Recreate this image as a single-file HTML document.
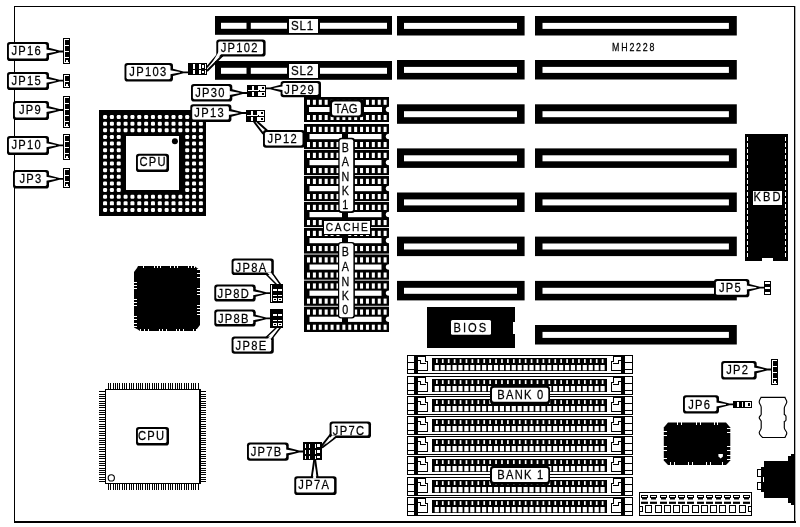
<!DOCTYPE html>
<html><head><meta charset="utf-8"><title>MH2228</title>
<style>
html,body{margin:0;padding:0;background:#fff;}
svg{display:block}
svg rect{shape-rendering:crispEdges}
svg .aa{shape-rendering:geometricPrecision}
text{font-family:"Liberation Sans",sans-serif;stroke:#000;stroke-width:0.25px;}
svg{filter:grayscale(1)}
</style></head><body>
<svg width="800" height="527" viewBox="0 0 800 527">
<rect x="0" y="0" width="800" height="527" fill="#fff"/>
<rect x="14" y="6" width="781" height="1" fill="#000" />
<rect x="14" y="6" width="1" height="516" fill="#000" />
<rect x="794" y="6" width="1.3" height="516" fill="#000" class="aa"/>
<rect x="14" y="521" width="781.5" height="2" fill="#000" />
<rect x="215" y="16" width="177" height="18.8" fill="#000" class="aa"/>
<rect x="221" y="22.8" width="25.5" height="6" fill="#fff" class="aa"/>
<rect x="250.8" y="22.8" width="136.2" height="6" fill="#fff" class="aa"/>
<rect x="215" y="61" width="177" height="18.8" fill="#000" class="aa"/>
<rect x="221" y="67.8" width="25.5" height="6" fill="#fff" class="aa"/>
<rect x="250.8" y="67.8" width="136.2" height="6" fill="#fff" class="aa"/>
<rect x="397" y="16" width="127.6" height="19.5" fill="#000" class="aa"/>
<rect x="404" y="22.9" width="113" height="6" fill="#fff" class="aa"/>
<rect x="397" y="60" width="127.6" height="19.5" fill="#000" class="aa"/>
<rect x="404" y="66.9" width="113" height="6" fill="#fff" class="aa"/>
<rect x="397" y="104.3" width="127.6" height="19.5" fill="#000" class="aa"/>
<rect x="404" y="111.2" width="113" height="6" fill="#fff" class="aa"/>
<rect x="397" y="148.4" width="127.6" height="19.5" fill="#000" class="aa"/>
<rect x="404" y="155.3" width="113" height="6" fill="#fff" class="aa"/>
<rect x="397" y="192.5" width="127.6" height="19.5" fill="#000" class="aa"/>
<rect x="404" y="199.4" width="113" height="6" fill="#fff" class="aa"/>
<rect x="397" y="236.6" width="127.6" height="19.5" fill="#000" class="aa"/>
<rect x="404" y="243.5" width="113" height="6" fill="#fff" class="aa"/>
<rect x="397" y="280.9" width="127.6" height="19.5" fill="#000" class="aa"/>
<rect x="404" y="287.8" width="113" height="6" fill="#fff" class="aa"/>
<rect x="535" y="16" width="201.8" height="19.5" fill="#000" class="aa"/>
<rect x="542.5" y="22.9" width="186.4" height="6" fill="#fff" class="aa"/>
<rect x="535" y="60" width="201.8" height="19.5" fill="#000" class="aa"/>
<rect x="542.5" y="66.9" width="186.4" height="6" fill="#fff" class="aa"/>
<rect x="535" y="104.3" width="201.8" height="19.5" fill="#000" class="aa"/>
<rect x="542.5" y="111.2" width="186.4" height="6" fill="#fff" class="aa"/>
<rect x="535" y="148.4" width="201.8" height="19.5" fill="#000" class="aa"/>
<rect x="542.5" y="155.3" width="186.4" height="6" fill="#fff" class="aa"/>
<rect x="535" y="192.5" width="201.8" height="19.5" fill="#000" class="aa"/>
<rect x="542.5" y="199.4" width="186.4" height="6" fill="#fff" class="aa"/>
<rect x="535" y="236.6" width="201.8" height="19.5" fill="#000" class="aa"/>
<rect x="542.5" y="243.5" width="186.4" height="6" fill="#fff" class="aa"/>
<rect x="535" y="280.9" width="201.8" height="19.5" fill="#000" class="aa"/>
<rect x="542.5" y="287.8" width="186.4" height="6" fill="#fff" class="aa"/>
<rect x="535" y="325" width="201.8" height="19.5" fill="#000" class="aa"/>
<rect x="542.5" y="331.9" width="186.4" height="6" fill="#fff" class="aa"/>
<rect x="7" y="42" width="42" height="19" rx="2.8" fill="#000" class="aa"/>
<rect x="8.9" y="44" width="37.6" height="14.6" rx="1.6" fill="#fff" class="aa"/>
<text transform="translate(26.8,55.2) scale(0.86,1)" font-size="13" text-anchor="middle" fill="#000"  letter-spacing="1.5">JP16</text>
<polygon points="48,47.6 59.5,50.6 63,50.6 63,52.4 59.5,52.4 48,55.4" fill="#000" class="aa" />
<polygon points="46,49.5 56,51.2 56,51.8 46,53.5" fill="#fff" class="aa" />
<rect x="63" y="38" width="7" height="26" fill="#000" />
<rect x="64" y="39" width="5" height="24" fill="#fff" />
<rect x="65" y="40" width="4" height="5" fill="#000" />
<rect x="65" y="46" width="4" height="5" fill="#000" />
<rect x="65" y="52" width="4" height="5" fill="#000" />
<rect x="65" y="58" width="4" height="4" fill="#000" />
<rect x="66" y="59.5" width="2" height="2" fill="#fff" />
<rect x="7" y="72" width="42" height="18" rx="2.8" fill="#000" class="aa"/>
<rect x="8.9" y="74" width="37.6" height="13.6" rx="1.6" fill="#fff" class="aa"/>
<text transform="translate(26.8,85.2) scale(0.86,1)" font-size="13" text-anchor="middle" fill="#000"  letter-spacing="1.5">JP15</text>
<polygon points="48,76.8 59.5,79.8 63,79.8 63,81.6 59.5,81.6 48,84.6" fill="#000" class="aa" />
<polygon points="46,78.7 56,80.4 56,81 46,82.7" fill="#fff" class="aa" />
<rect x="63" y="74" width="7" height="14" fill="#000" />
<rect x="64" y="75" width="5" height="12" fill="#fff" />
<rect x="65" y="76" width="4" height="5" fill="#000" />
<rect x="65" y="82" width="4" height="4" fill="#000" />
<rect x="66" y="83.5" width="2" height="2" fill="#fff" />
<rect x="13" y="101" width="36" height="19" rx="2.8" fill="#000" class="aa"/>
<rect x="14.9" y="103" width="31.6" height="14.6" rx="1.6" fill="#fff" class="aa"/>
<text transform="translate(30.5,114.2) scale(0.86,1)" font-size="13" text-anchor="middle" fill="#000"  letter-spacing="1.5">JP9</text>
<polygon points="48,106.1 59.5,109.1 63,109.1 63,110.9 59.5,110.9 48,113.9" fill="#000" class="aa" />
<polygon points="46,108 56,109.7 56,110.3 46,112" fill="#fff" class="aa" />
<rect x="63" y="96" width="7" height="32" fill="#000" />
<rect x="64" y="97" width="5" height="30" fill="#fff" />
<rect x="65" y="98" width="4" height="5" fill="#000" />
<rect x="65" y="104" width="4" height="5" fill="#000" />
<rect x="65" y="110" width="4" height="5" fill="#000" />
<rect x="65" y="116" width="4" height="5" fill="#000" />
<rect x="65" y="122" width="4" height="4" fill="#000" />
<rect x="66" y="123.5" width="2" height="2" fill="#fff" />
<rect x="7" y="136" width="42" height="19" rx="2.8" fill="#000" class="aa"/>
<rect x="8.9" y="138" width="37.6" height="14.6" rx="1.6" fill="#fff" class="aa"/>
<text transform="translate(26.8,149.2) scale(0.86,1)" font-size="13" text-anchor="middle" fill="#000"  letter-spacing="1.5">JP10</text>
<polygon points="48,141.4 59.5,144.4 63,144.4 63,146.2 59.5,146.2 48,149.2" fill="#000" class="aa" />
<polygon points="46,143.3 56,145 56,145.6 46,147.3" fill="#fff" class="aa" />
<rect x="63" y="134" width="7" height="26" fill="#000" />
<rect x="64" y="135" width="5" height="24" fill="#fff" />
<rect x="65" y="136" width="4" height="5" fill="#000" />
<rect x="65" y="142" width="4" height="5" fill="#000" />
<rect x="65" y="148" width="4" height="5" fill="#000" />
<rect x="65" y="154" width="4" height="4" fill="#000" />
<rect x="66" y="155.5" width="2" height="2" fill="#fff" />
<rect x="13" y="170" width="36" height="18.5" rx="2.8" fill="#000" class="aa"/>
<rect x="14.9" y="172" width="31.6" height="14.1" rx="1.6" fill="#fff" class="aa"/>
<text transform="translate(31,183.2) scale(0.86,1)" font-size="13" text-anchor="middle" fill="#000"  letter-spacing="1.5">JP3</text>
<polygon points="48,174.9 59.5,177.9 63,177.9 63,179.7 59.5,179.7 48,182.7" fill="#000" class="aa" />
<polygon points="46,176.8 56,178.5 56,179.1 46,180.8" fill="#fff" class="aa" />
<rect x="63" y="168" width="7" height="20" fill="#000" />
<rect x="64" y="169" width="5" height="18" fill="#fff" />
<rect x="65" y="170" width="4" height="5" fill="#000" />
<rect x="65" y="176" width="4" height="5" fill="#000" />
<rect x="65" y="182" width="4" height="4" fill="#000" />
<rect x="66" y="183.5" width="2" height="2" fill="#fff" />
<rect x="99" y="110" width="107" height="105.5" fill="#000" />
<rect x="103.05" y="115.00" width="4" height="4" rx="1.2" fill="#fff" class="aa"/>
<rect x="103.05" y="121.64" width="4" height="4" rx="1.2" fill="#fff" class="aa"/>
<rect x="103.05" y="128.29" width="4" height="4" rx="1.2" fill="#fff" class="aa"/>
<rect x="103.05" y="134.93" width="4" height="4" rx="1.2" fill="#fff" class="aa"/>
<rect x="103.05" y="141.57" width="4" height="4" rx="1.2" fill="#fff" class="aa"/>
<rect x="103.05" y="148.22" width="4" height="4" rx="1.2" fill="#fff" class="aa"/>
<rect x="103.05" y="154.86" width="4" height="4" rx="1.2" fill="#fff" class="aa"/>
<rect x="103.05" y="161.50" width="4" height="4" rx="1.2" fill="#fff" class="aa"/>
<rect x="103.05" y="168.14" width="4" height="4" rx="1.2" fill="#fff" class="aa"/>
<rect x="103.05" y="174.79" width="4" height="4" rx="1.2" fill="#fff" class="aa"/>
<rect x="103.05" y="181.43" width="4" height="4" rx="1.2" fill="#fff" class="aa"/>
<rect x="103.05" y="188.07" width="4" height="4" rx="1.2" fill="#fff" class="aa"/>
<rect x="103.05" y="194.72" width="4" height="4" rx="1.2" fill="#fff" class="aa"/>
<rect x="103.05" y="201.36" width="4" height="4" rx="1.2" fill="#fff" class="aa"/>
<rect x="103.05" y="208.00" width="4" height="4" rx="1.2" fill="#fff" class="aa"/>
<rect x="109.90" y="115.00" width="4" height="4" rx="1.2" fill="#fff" class="aa"/>
<rect x="109.90" y="121.64" width="4" height="4" rx="1.2" fill="#fff" class="aa"/>
<rect x="109.90" y="128.29" width="4" height="4" rx="1.2" fill="#fff" class="aa"/>
<rect x="109.90" y="134.93" width="4" height="4" rx="1.2" fill="#fff" class="aa"/>
<rect x="109.90" y="141.57" width="4" height="4" rx="1.2" fill="#fff" class="aa"/>
<rect x="109.90" y="148.22" width="4" height="4" rx="1.2" fill="#fff" class="aa"/>
<rect x="109.90" y="154.86" width="4" height="4" rx="1.2" fill="#fff" class="aa"/>
<rect x="109.90" y="161.50" width="4" height="4" rx="1.2" fill="#fff" class="aa"/>
<rect x="109.90" y="168.14" width="4" height="4" rx="1.2" fill="#fff" class="aa"/>
<rect x="109.90" y="174.79" width="4" height="4" rx="1.2" fill="#fff" class="aa"/>
<rect x="109.90" y="181.43" width="4" height="4" rx="1.2" fill="#fff" class="aa"/>
<rect x="109.90" y="188.07" width="4" height="4" rx="1.2" fill="#fff" class="aa"/>
<rect x="109.90" y="194.72" width="4" height="4" rx="1.2" fill="#fff" class="aa"/>
<rect x="109.90" y="201.36" width="4" height="4" rx="1.2" fill="#fff" class="aa"/>
<rect x="109.90" y="208.00" width="4" height="4" rx="1.2" fill="#fff" class="aa"/>
<rect x="116.74" y="115.00" width="4" height="4" rx="1.2" fill="#fff" class="aa"/>
<rect x="116.74" y="121.64" width="4" height="4" rx="1.2" fill="#fff" class="aa"/>
<rect x="116.74" y="128.29" width="4" height="4" rx="1.2" fill="#fff" class="aa"/>
<rect x="116.74" y="134.93" width="4" height="4" rx="1.2" fill="#fff" class="aa"/>
<rect x="116.74" y="141.57" width="4" height="4" rx="1.2" fill="#fff" class="aa"/>
<rect x="116.74" y="148.22" width="4" height="4" rx="1.2" fill="#fff" class="aa"/>
<rect x="116.74" y="154.86" width="4" height="4" rx="1.2" fill="#fff" class="aa"/>
<rect x="116.74" y="161.50" width="4" height="4" rx="1.2" fill="#fff" class="aa"/>
<rect x="116.74" y="168.14" width="4" height="4" rx="1.2" fill="#fff" class="aa"/>
<rect x="116.74" y="174.79" width="4" height="4" rx="1.2" fill="#fff" class="aa"/>
<rect x="116.74" y="181.43" width="4" height="4" rx="1.2" fill="#fff" class="aa"/>
<rect x="116.74" y="188.07" width="4" height="4" rx="1.2" fill="#fff" class="aa"/>
<rect x="116.74" y="194.72" width="4" height="4" rx="1.2" fill="#fff" class="aa"/>
<rect x="116.74" y="201.36" width="4" height="4" rx="1.2" fill="#fff" class="aa"/>
<rect x="116.74" y="208.00" width="4" height="4" rx="1.2" fill="#fff" class="aa"/>
<rect x="123.59" y="115.00" width="4" height="4" rx="1.2" fill="#fff" class="aa"/>
<rect x="123.59" y="121.64" width="4" height="4" rx="1.2" fill="#fff" class="aa"/>
<rect x="123.59" y="128.29" width="4" height="4" rx="1.2" fill="#fff" class="aa"/>
<rect x="123.59" y="194.72" width="4" height="4" rx="1.2" fill="#fff" class="aa"/>
<rect x="123.59" y="201.36" width="4" height="4" rx="1.2" fill="#fff" class="aa"/>
<rect x="123.59" y="208.00" width="4" height="4" rx="1.2" fill="#fff" class="aa"/>
<rect x="130.43" y="115.00" width="4" height="4" rx="1.2" fill="#fff" class="aa"/>
<rect x="130.43" y="121.64" width="4" height="4" rx="1.2" fill="#fff" class="aa"/>
<rect x="130.43" y="128.29" width="4" height="4" rx="1.2" fill="#fff" class="aa"/>
<rect x="130.43" y="194.72" width="4" height="4" rx="1.2" fill="#fff" class="aa"/>
<rect x="130.43" y="201.36" width="4" height="4" rx="1.2" fill="#fff" class="aa"/>
<rect x="130.43" y="208.00" width="4" height="4" rx="1.2" fill="#fff" class="aa"/>
<rect x="137.28" y="115.00" width="4" height="4" rx="1.2" fill="#fff" class="aa"/>
<rect x="137.28" y="121.64" width="4" height="4" rx="1.2" fill="#fff" class="aa"/>
<rect x="137.28" y="128.29" width="4" height="4" rx="1.2" fill="#fff" class="aa"/>
<rect x="137.28" y="194.72" width="4" height="4" rx="1.2" fill="#fff" class="aa"/>
<rect x="137.28" y="201.36" width="4" height="4" rx="1.2" fill="#fff" class="aa"/>
<rect x="137.28" y="208.00" width="4" height="4" rx="1.2" fill="#fff" class="aa"/>
<rect x="144.13" y="115.00" width="4" height="4" rx="1.2" fill="#fff" class="aa"/>
<rect x="144.13" y="121.64" width="4" height="4" rx="1.2" fill="#fff" class="aa"/>
<rect x="144.13" y="128.29" width="4" height="4" rx="1.2" fill="#fff" class="aa"/>
<rect x="144.13" y="194.72" width="4" height="4" rx="1.2" fill="#fff" class="aa"/>
<rect x="144.13" y="201.36" width="4" height="4" rx="1.2" fill="#fff" class="aa"/>
<rect x="144.13" y="208.00" width="4" height="4" rx="1.2" fill="#fff" class="aa"/>
<rect x="150.97" y="115.00" width="4" height="4" rx="1.2" fill="#fff" class="aa"/>
<rect x="150.97" y="121.64" width="4" height="4" rx="1.2" fill="#fff" class="aa"/>
<rect x="150.97" y="128.29" width="4" height="4" rx="1.2" fill="#fff" class="aa"/>
<rect x="150.97" y="194.72" width="4" height="4" rx="1.2" fill="#fff" class="aa"/>
<rect x="150.97" y="201.36" width="4" height="4" rx="1.2" fill="#fff" class="aa"/>
<rect x="150.97" y="208.00" width="4" height="4" rx="1.2" fill="#fff" class="aa"/>
<rect x="157.82" y="115.00" width="4" height="4" rx="1.2" fill="#fff" class="aa"/>
<rect x="157.82" y="121.64" width="4" height="4" rx="1.2" fill="#fff" class="aa"/>
<rect x="157.82" y="128.29" width="4" height="4" rx="1.2" fill="#fff" class="aa"/>
<rect x="157.82" y="194.72" width="4" height="4" rx="1.2" fill="#fff" class="aa"/>
<rect x="157.82" y="201.36" width="4" height="4" rx="1.2" fill="#fff" class="aa"/>
<rect x="157.82" y="208.00" width="4" height="4" rx="1.2" fill="#fff" class="aa"/>
<rect x="164.66" y="115.00" width="4" height="4" rx="1.2" fill="#fff" class="aa"/>
<rect x="164.66" y="121.64" width="4" height="4" rx="1.2" fill="#fff" class="aa"/>
<rect x="164.66" y="128.29" width="4" height="4" rx="1.2" fill="#fff" class="aa"/>
<rect x="164.66" y="194.72" width="4" height="4" rx="1.2" fill="#fff" class="aa"/>
<rect x="164.66" y="201.36" width="4" height="4" rx="1.2" fill="#fff" class="aa"/>
<rect x="164.66" y="208.00" width="4" height="4" rx="1.2" fill="#fff" class="aa"/>
<rect x="171.51" y="115.00" width="4" height="4" rx="1.2" fill="#fff" class="aa"/>
<rect x="171.51" y="121.64" width="4" height="4" rx="1.2" fill="#fff" class="aa"/>
<rect x="171.51" y="128.29" width="4" height="4" rx="1.2" fill="#fff" class="aa"/>
<rect x="171.51" y="194.72" width="4" height="4" rx="1.2" fill="#fff" class="aa"/>
<rect x="171.51" y="201.36" width="4" height="4" rx="1.2" fill="#fff" class="aa"/>
<rect x="171.51" y="208.00" width="4" height="4" rx="1.2" fill="#fff" class="aa"/>
<rect x="178.36" y="115.00" width="4" height="4" rx="1.2" fill="#fff" class="aa"/>
<rect x="178.36" y="121.64" width="4" height="4" rx="1.2" fill="#fff" class="aa"/>
<rect x="178.36" y="128.29" width="4" height="4" rx="1.2" fill="#fff" class="aa"/>
<rect x="178.36" y="194.72" width="4" height="4" rx="1.2" fill="#fff" class="aa"/>
<rect x="178.36" y="201.36" width="4" height="4" rx="1.2" fill="#fff" class="aa"/>
<rect x="178.36" y="208.00" width="4" height="4" rx="1.2" fill="#fff" class="aa"/>
<rect x="185.20" y="115.00" width="4" height="4" rx="1.2" fill="#fff" class="aa"/>
<rect x="185.20" y="121.64" width="4" height="4" rx="1.2" fill="#fff" class="aa"/>
<rect x="185.20" y="128.29" width="4" height="4" rx="1.2" fill="#fff" class="aa"/>
<rect x="185.20" y="134.93" width="4" height="4" rx="1.2" fill="#fff" class="aa"/>
<rect x="185.20" y="141.57" width="4" height="4" rx="1.2" fill="#fff" class="aa"/>
<rect x="185.20" y="148.22" width="4" height="4" rx="1.2" fill="#fff" class="aa"/>
<rect x="185.20" y="154.86" width="4" height="4" rx="1.2" fill="#fff" class="aa"/>
<rect x="185.20" y="161.50" width="4" height="4" rx="1.2" fill="#fff" class="aa"/>
<rect x="185.20" y="168.14" width="4" height="4" rx="1.2" fill="#fff" class="aa"/>
<rect x="185.20" y="174.79" width="4" height="4" rx="1.2" fill="#fff" class="aa"/>
<rect x="185.20" y="181.43" width="4" height="4" rx="1.2" fill="#fff" class="aa"/>
<rect x="185.20" y="188.07" width="4" height="4" rx="1.2" fill="#fff" class="aa"/>
<rect x="185.20" y="194.72" width="4" height="4" rx="1.2" fill="#fff" class="aa"/>
<rect x="185.20" y="201.36" width="4" height="4" rx="1.2" fill="#fff" class="aa"/>
<rect x="185.20" y="208.00" width="4" height="4" rx="1.2" fill="#fff" class="aa"/>
<rect x="192.05" y="115.00" width="4" height="4" rx="1.2" fill="#fff" class="aa"/>
<rect x="192.05" y="121.64" width="4" height="4" rx="1.2" fill="#fff" class="aa"/>
<rect x="192.05" y="128.29" width="4" height="4" rx="1.2" fill="#fff" class="aa"/>
<rect x="192.05" y="134.93" width="4" height="4" rx="1.2" fill="#fff" class="aa"/>
<rect x="192.05" y="141.57" width="4" height="4" rx="1.2" fill="#fff" class="aa"/>
<rect x="192.05" y="148.22" width="4" height="4" rx="1.2" fill="#fff" class="aa"/>
<rect x="192.05" y="154.86" width="4" height="4" rx="1.2" fill="#fff" class="aa"/>
<rect x="192.05" y="161.50" width="4" height="4" rx="1.2" fill="#fff" class="aa"/>
<rect x="192.05" y="168.14" width="4" height="4" rx="1.2" fill="#fff" class="aa"/>
<rect x="192.05" y="174.79" width="4" height="4" rx="1.2" fill="#fff" class="aa"/>
<rect x="192.05" y="181.43" width="4" height="4" rx="1.2" fill="#fff" class="aa"/>
<rect x="192.05" y="188.07" width="4" height="4" rx="1.2" fill="#fff" class="aa"/>
<rect x="192.05" y="194.72" width="4" height="4" rx="1.2" fill="#fff" class="aa"/>
<rect x="192.05" y="201.36" width="4" height="4" rx="1.2" fill="#fff" class="aa"/>
<rect x="192.05" y="208.00" width="4" height="4" rx="1.2" fill="#fff" class="aa"/>
<rect x="198.89" y="115.00" width="4" height="4" rx="1.2" fill="#fff" class="aa"/>
<rect x="198.89" y="121.64" width="4" height="4" rx="1.2" fill="#fff" class="aa"/>
<rect x="198.89" y="128.29" width="4" height="4" rx="1.2" fill="#fff" class="aa"/>
<rect x="198.89" y="134.93" width="4" height="4" rx="1.2" fill="#fff" class="aa"/>
<rect x="198.89" y="141.57" width="4" height="4" rx="1.2" fill="#fff" class="aa"/>
<rect x="198.89" y="148.22" width="4" height="4" rx="1.2" fill="#fff" class="aa"/>
<rect x="198.89" y="154.86" width="4" height="4" rx="1.2" fill="#fff" class="aa"/>
<rect x="198.89" y="161.50" width="4" height="4" rx="1.2" fill="#fff" class="aa"/>
<rect x="198.89" y="168.14" width="4" height="4" rx="1.2" fill="#fff" class="aa"/>
<rect x="198.89" y="174.79" width="4" height="4" rx="1.2" fill="#fff" class="aa"/>
<rect x="198.89" y="181.43" width="4" height="4" rx="1.2" fill="#fff" class="aa"/>
<rect x="198.89" y="188.07" width="4" height="4" rx="1.2" fill="#fff" class="aa"/>
<rect x="198.89" y="194.72" width="4" height="4" rx="1.2" fill="#fff" class="aa"/>
<rect x="198.89" y="201.36" width="4" height="4" rx="1.2" fill="#fff" class="aa"/>
<rect x="198.89" y="208.00" width="4" height="4" rx="1.2" fill="#fff" class="aa"/>
<rect x="126" y="136" width="53.3" height="54" fill="#fff" />
<circle cx="174.9" cy="141.3" r="3" fill="#000"/>
<rect x="136" y="153.8" width="33" height="18.2" rx="2.8" fill="#000" class="aa"/>
<rect x="137.9" y="155.8" width="28.6" height="13.8" rx="1.6" fill="#fff" class="aa"/>
<text transform="translate(153.1,166.2) scale(0.86,1)" font-size="13" text-anchor="middle" fill="#000"  letter-spacing="1.5">CPU</text>
<rect x="124.5" y="63" width="48.5" height="18.6" rx="2.8" fill="#000" class="aa"/>
<rect x="126.4" y="65" width="44.1" height="14.2" rx="1.6" fill="#fff" class="aa"/>
<text transform="translate(148.35,76.2) scale(0.86,1)" font-size="13" text-anchor="middle" fill="#000"  letter-spacing="1.5">JP103</text>
<polygon points="172,68.4 183.5,71.4 188,71.4 188,73.2 183.5,73.2 172,76.2" fill="#000" class="aa" />
<polygon points="170,70.3 180,72 180,72.6 170,74.3" fill="#fff" class="aa" />
<rect x="188" y="63" width="19" height="12" fill="#000" />
<rect x="193" y="64" width="2" height="5" fill="#fff" />
<rect x="193" y="70" width="2" height="4" fill="#fff" />
<rect x="199" y="64" width="2" height="5" fill="#fff" />
<rect x="199" y="70" width="2" height="4" fill="#fff" />
<rect x="202" y="65" width="2" height="3" fill="#fff" />
<rect x="202" y="71" width="2" height="2" fill="#fff" />
<rect x="205" y="64" width="1" height="5" fill="#fff" />
<rect x="205" y="70" width="1" height="4" fill="#fff" />
<line x1="207" y1="67" x2="219" y2="53" stroke="#000" stroke-width="1.9" class="aa" stroke-linecap="round"/>
<line x1="207.5" y1="70.5" x2="222.5" y2="55.5" stroke="#000" stroke-width="1.9" class="aa" stroke-linecap="round"/>
<rect x="216.3" y="39.5" width="49.3" height="17.1" rx="2.8" fill="#000" class="aa"/>
<rect x="218.2" y="41.5" width="44.9" height="12.7" rx="1.6" fill="#fff" class="aa"/>
<text transform="translate(239.75,52) scale(0.86,1)" font-size="13" text-anchor="middle" fill="#000"  letter-spacing="1.5">JP102</text>
<polygon points="218.5,52 223,52 210,66.5" fill="#fff" class="aa" />
<rect x="191" y="84" width="41.3" height="17.6" rx="2.8" fill="#000" class="aa"/>
<rect x="192.9" y="86" width="36.9" height="13.2" rx="1.6" fill="#fff" class="aa"/>
<text transform="translate(210.45,97.2) scale(0.86,1)" font-size="13" text-anchor="middle" fill="#000"  letter-spacing="1.5">JP30</text>
<polygon points="231.3,89.1 242.8,92.1 247,92.1 247,93.9 242.8,93.9 231.3,96.9" fill="#000" class="aa" />
<polygon points="229.3,91 239.3,92.7 239.3,93.3 229.3,95" fill="#fff" class="aa" />
<rect x="247" y="85" width="19" height="12" fill="#000" />
<rect x="248" y="90" width="11" height="1" fill="#fff" />
<rect x="252" y="86" width="2" height="4" fill="#fff" />
<rect x="252" y="92" width="2" height="4" fill="#fff" />
<rect x="258" y="86" width="2" height="4" fill="#fff" />
<rect x="258" y="92" width="2" height="4" fill="#fff" />
<rect x="260" y="86" width="5" height="4.5" fill="#fff" />
<rect x="261.5" y="87" width="2.5" height="2" fill="#000" />
<rect x="260" y="92" width="5" height="4" fill="#fff" />
<rect x="261.5" y="93" width="2.5" height="2" fill="#000" />
<rect x="280.6" y="81" width="40.4" height="16.3" rx="2.8" fill="#000" class="aa"/>
<rect x="282.5" y="83" width="36" height="11.9" rx="1.6" fill="#fff" class="aa"/>
<text transform="translate(299.6,94.2) scale(0.86,1)" font-size="13" text-anchor="middle" fill="#000"  letter-spacing="1.5">JP29</text>
<polygon points="281.6,84.4 270.1,87.4 266,87.4 266,89.2 270.1,89.2 281.6,92.2" fill="#000" class="aa" />
<polygon points="283.6,86.3 273.6,88 273.6,88.6 283.6,90.3" fill="#fff" class="aa" />
<rect x="190.3" y="104.3" width="41.1" height="17.7" rx="2.8" fill="#000" class="aa"/>
<rect x="192.2" y="106.3" width="36.7" height="13.3" rx="1.6" fill="#fff" class="aa"/>
<text transform="translate(209.65,117.3) scale(0.86,1)" font-size="13" text-anchor="middle" fill="#000"  letter-spacing="1.5">JP13</text>
<polygon points="230.4,109.1 241.9,112.1 246,112.1 246,113.9 241.9,113.9 230.4,116.9" fill="#000" class="aa" />
<polygon points="228.4,111 238.4,112.7 238.4,113.3 228.4,115" fill="#fff" class="aa" />
<rect x="246" y="110" width="19" height="12" fill="#000" />
<rect x="247" y="115" width="11" height="1" fill="#fff" />
<rect x="251" y="111" width="2" height="4" fill="#fff" />
<rect x="251" y="117" width="2" height="4" fill="#fff" />
<rect x="257" y="111" width="2" height="4" fill="#fff" />
<rect x="257" y="117" width="2" height="4" fill="#fff" />
<rect x="259" y="111" width="5" height="4.5" fill="#fff" />
<rect x="260.5" y="112" width="2.5" height="2" fill="#000" />
<rect x="259" y="117" width="5" height="4" fill="#fff" />
<rect x="260.5" y="118" width="2.5" height="2" fill="#000" />
<line x1="254.3" y1="122" x2="263" y2="133.5" stroke="#000" stroke-width="2" class="aa" stroke-linecap="round"/>
<line x1="257.5" y1="122" x2="267" y2="130.5" stroke="#000" stroke-width="2" class="aa" stroke-linecap="round"/>
<rect x="318.6" y="88" width="2.4" height="10" fill="#000" />
<rect x="263" y="130" width="42" height="17.8" rx="2.8" fill="#000" class="aa"/>
<rect x="264.9" y="132" width="37.6" height="13.4" rx="1.6" fill="#fff" class="aa"/>
<text transform="translate(282.8,143.2) scale(0.86,1)" font-size="13" text-anchor="middle" fill="#000"  letter-spacing="1.5">JP12</text>
<rect x="287" y="17" width="33" height="17" fill="#000" />
<rect x="289" y="19" width="29" height="14" fill="#fff" />
<text transform="translate(302.5,29.7) scale(0.86,1)" font-size="13.5" text-anchor="middle" fill="#000" letter-spacing="1">SL1</text>
<rect x="287" y="62" width="33" height="17" fill="#000" />
<rect x="289" y="64" width="29" height="13.7" fill="#fff" />
<text transform="translate(302.5,74.8) scale(0.86,1)" font-size="13.5" text-anchor="middle" fill="#000" letter-spacing="1">SL2</text>
<text transform="translate(612,50.5) scale(0.86,1)" font-size="10.3" text-anchor="start" fill="#000" textLength="49.4186" lengthAdjust="spacing" >MH2228</text>
<rect x="304" y="97.2" width="85" height="24.5" fill="#000" />
<rect x="307.00" y="99.8" width="3" height="5" fill="#fff" class="aa"/>
<rect x="307.00" y="115" width="3" height="5" fill="#fff" class="aa"/>
<rect x="312.89" y="99.8" width="3" height="5" fill="#fff" class="aa"/>
<rect x="312.89" y="115" width="3" height="5" fill="#fff" class="aa"/>
<rect x="318.79" y="99.8" width="3" height="5" fill="#fff" class="aa"/>
<rect x="318.79" y="115" width="3" height="5" fill="#fff" class="aa"/>
<rect x="324.68" y="99.8" width="3" height="5" fill="#fff" class="aa"/>
<rect x="324.68" y="115" width="3" height="5" fill="#fff" class="aa"/>
<rect x="330.58" y="99.8" width="3" height="5" fill="#fff" class="aa"/>
<rect x="330.58" y="115" width="3" height="5" fill="#fff" class="aa"/>
<rect x="336.47" y="99.8" width="3" height="5" fill="#fff" class="aa"/>
<rect x="336.47" y="115" width="3" height="5" fill="#fff" class="aa"/>
<rect x="342.36" y="99.8" width="3" height="5" fill="#fff" class="aa"/>
<rect x="342.36" y="115" width="3" height="5" fill="#fff" class="aa"/>
<rect x="348.26" y="99.8" width="3" height="5" fill="#fff" class="aa"/>
<rect x="348.26" y="115" width="3" height="5" fill="#fff" class="aa"/>
<rect x="354.15" y="99.8" width="3" height="5" fill="#fff" class="aa"/>
<rect x="354.15" y="115" width="3" height="5" fill="#fff" class="aa"/>
<rect x="360.05" y="99.8" width="3" height="5" fill="#fff" class="aa"/>
<rect x="360.05" y="115" width="3" height="5" fill="#fff" class="aa"/>
<rect x="365.94" y="99.8" width="3" height="5" fill="#fff" class="aa"/>
<rect x="365.94" y="115" width="3" height="5" fill="#fff" class="aa"/>
<rect x="371.83" y="99.8" width="3" height="5" fill="#fff" class="aa"/>
<rect x="371.83" y="115" width="3" height="5" fill="#fff" class="aa"/>
<rect x="377.73" y="99.8" width="3" height="5" fill="#fff" class="aa"/>
<rect x="377.73" y="115" width="3" height="5" fill="#fff" class="aa"/>
<rect x="383.62" y="99.8" width="3" height="5" fill="#fff" class="aa"/>
<rect x="383.62" y="115" width="3" height="5" fill="#fff" class="aa"/>
<rect x="309" y="107" width="72.5" height="5" fill="#fff" />
<ellipse cx="389" cy="109.5" rx="3.2" ry="2.7" fill="#fff"/>
<rect x="304" y="124" width="85" height="25.1" fill="#000" class="aa"/>
<rect x="307.00" y="126.80" width="3" height="5.2" fill="#fff" class="aa"/>
<rect x="307.00" y="142.00" width="3" height="5.1" fill="#fff" class="aa"/>
<rect x="312.89" y="126.80" width="3" height="5.2" fill="#fff" class="aa"/>
<rect x="312.89" y="142.00" width="3" height="5.1" fill="#fff" class="aa"/>
<rect x="318.79" y="126.80" width="3" height="5.2" fill="#fff" class="aa"/>
<rect x="318.79" y="142.00" width="3" height="5.1" fill="#fff" class="aa"/>
<rect x="324.68" y="126.80" width="3" height="5.2" fill="#fff" class="aa"/>
<rect x="324.68" y="142.00" width="3" height="5.1" fill="#fff" class="aa"/>
<rect x="330.58" y="126.80" width="3" height="5.2" fill="#fff" class="aa"/>
<rect x="330.58" y="142.00" width="3" height="5.1" fill="#fff" class="aa"/>
<rect x="336.47" y="126.80" width="3" height="5.2" fill="#fff" class="aa"/>
<rect x="336.47" y="142.00" width="3" height="5.1" fill="#fff" class="aa"/>
<rect x="342.36" y="126.80" width="3" height="5.2" fill="#fff" class="aa"/>
<rect x="342.36" y="142.00" width="3" height="5.1" fill="#fff" class="aa"/>
<rect x="348.26" y="126.80" width="3" height="5.2" fill="#fff" class="aa"/>
<rect x="348.26" y="142.00" width="3" height="5.1" fill="#fff" class="aa"/>
<rect x="354.15" y="126.80" width="3" height="5.2" fill="#fff" class="aa"/>
<rect x="354.15" y="142.00" width="3" height="5.1" fill="#fff" class="aa"/>
<rect x="360.05" y="126.80" width="3" height="5.2" fill="#fff" class="aa"/>
<rect x="360.05" y="142.00" width="3" height="5.1" fill="#fff" class="aa"/>
<rect x="365.94" y="126.80" width="3" height="5.2" fill="#fff" class="aa"/>
<rect x="365.94" y="142.00" width="3" height="5.1" fill="#fff" class="aa"/>
<rect x="371.83" y="126.80" width="3" height="5.2" fill="#fff" class="aa"/>
<rect x="371.83" y="142.00" width="3" height="5.1" fill="#fff" class="aa"/>
<rect x="377.73" y="126.80" width="3" height="5.2" fill="#fff" class="aa"/>
<rect x="377.73" y="142.00" width="3" height="5.1" fill="#fff" class="aa"/>
<rect x="383.62" y="126.80" width="3" height="5.2" fill="#fff" class="aa"/>
<rect x="383.62" y="142.00" width="3" height="5.1" fill="#fff" class="aa"/>
<rect x="309.5" y="134.00" width="72" height="5.2" fill="#fff" class="aa"/>
<ellipse cx="389" cy="136.50" rx="3.2" ry="2.7" fill="#fff"/>
<rect x="304" y="150" width="85" height="25.1" fill="#000" class="aa"/>
<rect x="307.00" y="152.80" width="3" height="5.2" fill="#fff" class="aa"/>
<rect x="307.00" y="168.00" width="3" height="5.1" fill="#fff" class="aa"/>
<rect x="312.89" y="152.80" width="3" height="5.2" fill="#fff" class="aa"/>
<rect x="312.89" y="168.00" width="3" height="5.1" fill="#fff" class="aa"/>
<rect x="318.79" y="152.80" width="3" height="5.2" fill="#fff" class="aa"/>
<rect x="318.79" y="168.00" width="3" height="5.1" fill="#fff" class="aa"/>
<rect x="324.68" y="152.80" width="3" height="5.2" fill="#fff" class="aa"/>
<rect x="324.68" y="168.00" width="3" height="5.1" fill="#fff" class="aa"/>
<rect x="330.58" y="152.80" width="3" height="5.2" fill="#fff" class="aa"/>
<rect x="330.58" y="168.00" width="3" height="5.1" fill="#fff" class="aa"/>
<rect x="336.47" y="152.80" width="3" height="5.2" fill="#fff" class="aa"/>
<rect x="336.47" y="168.00" width="3" height="5.1" fill="#fff" class="aa"/>
<rect x="342.36" y="152.80" width="3" height="5.2" fill="#fff" class="aa"/>
<rect x="342.36" y="168.00" width="3" height="5.1" fill="#fff" class="aa"/>
<rect x="348.26" y="152.80" width="3" height="5.2" fill="#fff" class="aa"/>
<rect x="348.26" y="168.00" width="3" height="5.1" fill="#fff" class="aa"/>
<rect x="354.15" y="152.80" width="3" height="5.2" fill="#fff" class="aa"/>
<rect x="354.15" y="168.00" width="3" height="5.1" fill="#fff" class="aa"/>
<rect x="360.05" y="152.80" width="3" height="5.2" fill="#fff" class="aa"/>
<rect x="360.05" y="168.00" width="3" height="5.1" fill="#fff" class="aa"/>
<rect x="365.94" y="152.80" width="3" height="5.2" fill="#fff" class="aa"/>
<rect x="365.94" y="168.00" width="3" height="5.1" fill="#fff" class="aa"/>
<rect x="371.83" y="152.80" width="3" height="5.2" fill="#fff" class="aa"/>
<rect x="371.83" y="168.00" width="3" height="5.1" fill="#fff" class="aa"/>
<rect x="377.73" y="152.80" width="3" height="5.2" fill="#fff" class="aa"/>
<rect x="377.73" y="168.00" width="3" height="5.1" fill="#fff" class="aa"/>
<rect x="383.62" y="152.80" width="3" height="5.2" fill="#fff" class="aa"/>
<rect x="383.62" y="168.00" width="3" height="5.1" fill="#fff" class="aa"/>
<rect x="309.5" y="160.00" width="72" height="5.2" fill="#fff" class="aa"/>
<ellipse cx="389" cy="162.50" rx="3.2" ry="2.7" fill="#fff"/>
<rect x="304" y="176" width="85" height="25.1" fill="#000" class="aa"/>
<rect x="307.00" y="178.80" width="3" height="5.2" fill="#fff" class="aa"/>
<rect x="307.00" y="194.00" width="3" height="5.1" fill="#fff" class="aa"/>
<rect x="312.89" y="178.80" width="3" height="5.2" fill="#fff" class="aa"/>
<rect x="312.89" y="194.00" width="3" height="5.1" fill="#fff" class="aa"/>
<rect x="318.79" y="178.80" width="3" height="5.2" fill="#fff" class="aa"/>
<rect x="318.79" y="194.00" width="3" height="5.1" fill="#fff" class="aa"/>
<rect x="324.68" y="178.80" width="3" height="5.2" fill="#fff" class="aa"/>
<rect x="324.68" y="194.00" width="3" height="5.1" fill="#fff" class="aa"/>
<rect x="330.58" y="178.80" width="3" height="5.2" fill="#fff" class="aa"/>
<rect x="330.58" y="194.00" width="3" height="5.1" fill="#fff" class="aa"/>
<rect x="336.47" y="178.80" width="3" height="5.2" fill="#fff" class="aa"/>
<rect x="336.47" y="194.00" width="3" height="5.1" fill="#fff" class="aa"/>
<rect x="342.36" y="178.80" width="3" height="5.2" fill="#fff" class="aa"/>
<rect x="342.36" y="194.00" width="3" height="5.1" fill="#fff" class="aa"/>
<rect x="348.26" y="178.80" width="3" height="5.2" fill="#fff" class="aa"/>
<rect x="348.26" y="194.00" width="3" height="5.1" fill="#fff" class="aa"/>
<rect x="354.15" y="178.80" width="3" height="5.2" fill="#fff" class="aa"/>
<rect x="354.15" y="194.00" width="3" height="5.1" fill="#fff" class="aa"/>
<rect x="360.05" y="178.80" width="3" height="5.2" fill="#fff" class="aa"/>
<rect x="360.05" y="194.00" width="3" height="5.1" fill="#fff" class="aa"/>
<rect x="365.94" y="178.80" width="3" height="5.2" fill="#fff" class="aa"/>
<rect x="365.94" y="194.00" width="3" height="5.1" fill="#fff" class="aa"/>
<rect x="371.83" y="178.80" width="3" height="5.2" fill="#fff" class="aa"/>
<rect x="371.83" y="194.00" width="3" height="5.1" fill="#fff" class="aa"/>
<rect x="377.73" y="178.80" width="3" height="5.2" fill="#fff" class="aa"/>
<rect x="377.73" y="194.00" width="3" height="5.1" fill="#fff" class="aa"/>
<rect x="383.62" y="178.80" width="3" height="5.2" fill="#fff" class="aa"/>
<rect x="383.62" y="194.00" width="3" height="5.1" fill="#fff" class="aa"/>
<rect x="309.5" y="186.00" width="72" height="5.2" fill="#fff" class="aa"/>
<ellipse cx="389" cy="188.50" rx="3.2" ry="2.7" fill="#fff"/>
<rect x="304" y="202" width="85" height="25.1" fill="#000" class="aa"/>
<rect x="307.00" y="204.80" width="3" height="5.2" fill="#fff" class="aa"/>
<rect x="307.00" y="220.00" width="3" height="5.1" fill="#fff" class="aa"/>
<rect x="312.89" y="204.80" width="3" height="5.2" fill="#fff" class="aa"/>
<rect x="312.89" y="220.00" width="3" height="5.1" fill="#fff" class="aa"/>
<rect x="318.79" y="204.80" width="3" height="5.2" fill="#fff" class="aa"/>
<rect x="318.79" y="220.00" width="3" height="5.1" fill="#fff" class="aa"/>
<rect x="324.68" y="204.80" width="3" height="5.2" fill="#fff" class="aa"/>
<rect x="324.68" y="220.00" width="3" height="5.1" fill="#fff" class="aa"/>
<rect x="330.58" y="204.80" width="3" height="5.2" fill="#fff" class="aa"/>
<rect x="330.58" y="220.00" width="3" height="5.1" fill="#fff" class="aa"/>
<rect x="336.47" y="204.80" width="3" height="5.2" fill="#fff" class="aa"/>
<rect x="336.47" y="220.00" width="3" height="5.1" fill="#fff" class="aa"/>
<rect x="342.36" y="204.80" width="3" height="5.2" fill="#fff" class="aa"/>
<rect x="342.36" y="220.00" width="3" height="5.1" fill="#fff" class="aa"/>
<rect x="348.26" y="204.80" width="3" height="5.2" fill="#fff" class="aa"/>
<rect x="348.26" y="220.00" width="3" height="5.1" fill="#fff" class="aa"/>
<rect x="354.15" y="204.80" width="3" height="5.2" fill="#fff" class="aa"/>
<rect x="354.15" y="220.00" width="3" height="5.1" fill="#fff" class="aa"/>
<rect x="360.05" y="204.80" width="3" height="5.2" fill="#fff" class="aa"/>
<rect x="360.05" y="220.00" width="3" height="5.1" fill="#fff" class="aa"/>
<rect x="365.94" y="204.80" width="3" height="5.2" fill="#fff" class="aa"/>
<rect x="365.94" y="220.00" width="3" height="5.1" fill="#fff" class="aa"/>
<rect x="371.83" y="204.80" width="3" height="5.2" fill="#fff" class="aa"/>
<rect x="371.83" y="220.00" width="3" height="5.1" fill="#fff" class="aa"/>
<rect x="377.73" y="204.80" width="3" height="5.2" fill="#fff" class="aa"/>
<rect x="377.73" y="220.00" width="3" height="5.1" fill="#fff" class="aa"/>
<rect x="383.62" y="204.80" width="3" height="5.2" fill="#fff" class="aa"/>
<rect x="383.62" y="220.00" width="3" height="5.1" fill="#fff" class="aa"/>
<rect x="309.5" y="212.00" width="72" height="5.2" fill="#fff" class="aa"/>
<ellipse cx="389" cy="214.50" rx="3.2" ry="2.7" fill="#fff"/>
<rect x="304" y="228" width="85" height="25.6" fill="#000" class="aa"/>
<rect x="307.00" y="230.80" width="3" height="5.2" fill="#fff" class="aa"/>
<rect x="307.00" y="246.00" width="3" height="5.1" fill="#fff" class="aa"/>
<rect x="312.89" y="230.80" width="3" height="5.2" fill="#fff" class="aa"/>
<rect x="312.89" y="246.00" width="3" height="5.1" fill="#fff" class="aa"/>
<rect x="318.79" y="230.80" width="3" height="5.2" fill="#fff" class="aa"/>
<rect x="318.79" y="246.00" width="3" height="5.1" fill="#fff" class="aa"/>
<rect x="324.68" y="230.80" width="3" height="5.2" fill="#fff" class="aa"/>
<rect x="324.68" y="246.00" width="3" height="5.1" fill="#fff" class="aa"/>
<rect x="330.58" y="230.80" width="3" height="5.2" fill="#fff" class="aa"/>
<rect x="330.58" y="246.00" width="3" height="5.1" fill="#fff" class="aa"/>
<rect x="336.47" y="230.80" width="3" height="5.2" fill="#fff" class="aa"/>
<rect x="336.47" y="246.00" width="3" height="5.1" fill="#fff" class="aa"/>
<rect x="342.36" y="230.80" width="3" height="5.2" fill="#fff" class="aa"/>
<rect x="342.36" y="246.00" width="3" height="5.1" fill="#fff" class="aa"/>
<rect x="348.26" y="230.80" width="3" height="5.2" fill="#fff" class="aa"/>
<rect x="348.26" y="246.00" width="3" height="5.1" fill="#fff" class="aa"/>
<rect x="354.15" y="230.80" width="3" height="5.2" fill="#fff" class="aa"/>
<rect x="354.15" y="246.00" width="3" height="5.1" fill="#fff" class="aa"/>
<rect x="360.05" y="230.80" width="3" height="5.2" fill="#fff" class="aa"/>
<rect x="360.05" y="246.00" width="3" height="5.1" fill="#fff" class="aa"/>
<rect x="365.94" y="230.80" width="3" height="5.2" fill="#fff" class="aa"/>
<rect x="365.94" y="246.00" width="3" height="5.1" fill="#fff" class="aa"/>
<rect x="371.83" y="230.80" width="3" height="5.2" fill="#fff" class="aa"/>
<rect x="371.83" y="246.00" width="3" height="5.1" fill="#fff" class="aa"/>
<rect x="377.73" y="230.80" width="3" height="5.2" fill="#fff" class="aa"/>
<rect x="377.73" y="246.00" width="3" height="5.1" fill="#fff" class="aa"/>
<rect x="383.62" y="230.80" width="3" height="5.2" fill="#fff" class="aa"/>
<rect x="383.62" y="246.00" width="3" height="5.1" fill="#fff" class="aa"/>
<rect x="309.5" y="238.00" width="72" height="5.2" fill="#fff" class="aa"/>
<ellipse cx="389" cy="240.50" rx="3.2" ry="2.7" fill="#fff"/>
<rect x="304" y="254.5" width="85" height="25.2" fill="#000" class="aa"/>
<rect x="307.00" y="257.30" width="3" height="5.2" fill="#fff" class="aa"/>
<rect x="307.00" y="272.50" width="3" height="5.1" fill="#fff" class="aa"/>
<rect x="312.89" y="257.30" width="3" height="5.2" fill="#fff" class="aa"/>
<rect x="312.89" y="272.50" width="3" height="5.1" fill="#fff" class="aa"/>
<rect x="318.79" y="257.30" width="3" height="5.2" fill="#fff" class="aa"/>
<rect x="318.79" y="272.50" width="3" height="5.1" fill="#fff" class="aa"/>
<rect x="324.68" y="257.30" width="3" height="5.2" fill="#fff" class="aa"/>
<rect x="324.68" y="272.50" width="3" height="5.1" fill="#fff" class="aa"/>
<rect x="330.58" y="257.30" width="3" height="5.2" fill="#fff" class="aa"/>
<rect x="330.58" y="272.50" width="3" height="5.1" fill="#fff" class="aa"/>
<rect x="336.47" y="257.30" width="3" height="5.2" fill="#fff" class="aa"/>
<rect x="336.47" y="272.50" width="3" height="5.1" fill="#fff" class="aa"/>
<rect x="342.36" y="257.30" width="3" height="5.2" fill="#fff" class="aa"/>
<rect x="342.36" y="272.50" width="3" height="5.1" fill="#fff" class="aa"/>
<rect x="348.26" y="257.30" width="3" height="5.2" fill="#fff" class="aa"/>
<rect x="348.26" y="272.50" width="3" height="5.1" fill="#fff" class="aa"/>
<rect x="354.15" y="257.30" width="3" height="5.2" fill="#fff" class="aa"/>
<rect x="354.15" y="272.50" width="3" height="5.1" fill="#fff" class="aa"/>
<rect x="360.05" y="257.30" width="3" height="5.2" fill="#fff" class="aa"/>
<rect x="360.05" y="272.50" width="3" height="5.1" fill="#fff" class="aa"/>
<rect x="365.94" y="257.30" width="3" height="5.2" fill="#fff" class="aa"/>
<rect x="365.94" y="272.50" width="3" height="5.1" fill="#fff" class="aa"/>
<rect x="371.83" y="257.30" width="3" height="5.2" fill="#fff" class="aa"/>
<rect x="371.83" y="272.50" width="3" height="5.1" fill="#fff" class="aa"/>
<rect x="377.73" y="257.30" width="3" height="5.2" fill="#fff" class="aa"/>
<rect x="377.73" y="272.50" width="3" height="5.1" fill="#fff" class="aa"/>
<rect x="383.62" y="257.30" width="3" height="5.2" fill="#fff" class="aa"/>
<rect x="383.62" y="272.50" width="3" height="5.1" fill="#fff" class="aa"/>
<rect x="309.5" y="264.50" width="72" height="5.2" fill="#fff" class="aa"/>
<ellipse cx="389" cy="267.00" rx="3.2" ry="2.7" fill="#fff"/>
<rect x="304" y="280.6" width="85" height="25.2" fill="#000" class="aa"/>
<rect x="307.00" y="283.40" width="3" height="5.2" fill="#fff" class="aa"/>
<rect x="307.00" y="298.60" width="3" height="5.1" fill="#fff" class="aa"/>
<rect x="312.89" y="283.40" width="3" height="5.2" fill="#fff" class="aa"/>
<rect x="312.89" y="298.60" width="3" height="5.1" fill="#fff" class="aa"/>
<rect x="318.79" y="283.40" width="3" height="5.2" fill="#fff" class="aa"/>
<rect x="318.79" y="298.60" width="3" height="5.1" fill="#fff" class="aa"/>
<rect x="324.68" y="283.40" width="3" height="5.2" fill="#fff" class="aa"/>
<rect x="324.68" y="298.60" width="3" height="5.1" fill="#fff" class="aa"/>
<rect x="330.58" y="283.40" width="3" height="5.2" fill="#fff" class="aa"/>
<rect x="330.58" y="298.60" width="3" height="5.1" fill="#fff" class="aa"/>
<rect x="336.47" y="283.40" width="3" height="5.2" fill="#fff" class="aa"/>
<rect x="336.47" y="298.60" width="3" height="5.1" fill="#fff" class="aa"/>
<rect x="342.36" y="283.40" width="3" height="5.2" fill="#fff" class="aa"/>
<rect x="342.36" y="298.60" width="3" height="5.1" fill="#fff" class="aa"/>
<rect x="348.26" y="283.40" width="3" height="5.2" fill="#fff" class="aa"/>
<rect x="348.26" y="298.60" width="3" height="5.1" fill="#fff" class="aa"/>
<rect x="354.15" y="283.40" width="3" height="5.2" fill="#fff" class="aa"/>
<rect x="354.15" y="298.60" width="3" height="5.1" fill="#fff" class="aa"/>
<rect x="360.05" y="283.40" width="3" height="5.2" fill="#fff" class="aa"/>
<rect x="360.05" y="298.60" width="3" height="5.1" fill="#fff" class="aa"/>
<rect x="365.94" y="283.40" width="3" height="5.2" fill="#fff" class="aa"/>
<rect x="365.94" y="298.60" width="3" height="5.1" fill="#fff" class="aa"/>
<rect x="371.83" y="283.40" width="3" height="5.2" fill="#fff" class="aa"/>
<rect x="371.83" y="298.60" width="3" height="5.1" fill="#fff" class="aa"/>
<rect x="377.73" y="283.40" width="3" height="5.2" fill="#fff" class="aa"/>
<rect x="377.73" y="298.60" width="3" height="5.1" fill="#fff" class="aa"/>
<rect x="383.62" y="283.40" width="3" height="5.2" fill="#fff" class="aa"/>
<rect x="383.62" y="298.60" width="3" height="5.1" fill="#fff" class="aa"/>
<rect x="309.5" y="290.60" width="72" height="5.2" fill="#fff" class="aa"/>
<ellipse cx="389" cy="293.10" rx="3.2" ry="2.7" fill="#fff"/>
<rect x="304" y="306.7" width="85" height="25.3" fill="#000" class="aa"/>
<rect x="307.00" y="309.50" width="3" height="5.2" fill="#fff" class="aa"/>
<rect x="307.00" y="324.70" width="3" height="5.1" fill="#fff" class="aa"/>
<rect x="312.89" y="309.50" width="3" height="5.2" fill="#fff" class="aa"/>
<rect x="312.89" y="324.70" width="3" height="5.1" fill="#fff" class="aa"/>
<rect x="318.79" y="309.50" width="3" height="5.2" fill="#fff" class="aa"/>
<rect x="318.79" y="324.70" width="3" height="5.1" fill="#fff" class="aa"/>
<rect x="324.68" y="309.50" width="3" height="5.2" fill="#fff" class="aa"/>
<rect x="324.68" y="324.70" width="3" height="5.1" fill="#fff" class="aa"/>
<rect x="330.58" y="309.50" width="3" height="5.2" fill="#fff" class="aa"/>
<rect x="330.58" y="324.70" width="3" height="5.1" fill="#fff" class="aa"/>
<rect x="336.47" y="309.50" width="3" height="5.2" fill="#fff" class="aa"/>
<rect x="336.47" y="324.70" width="3" height="5.1" fill="#fff" class="aa"/>
<rect x="342.36" y="309.50" width="3" height="5.2" fill="#fff" class="aa"/>
<rect x="342.36" y="324.70" width="3" height="5.1" fill="#fff" class="aa"/>
<rect x="348.26" y="309.50" width="3" height="5.2" fill="#fff" class="aa"/>
<rect x="348.26" y="324.70" width="3" height="5.1" fill="#fff" class="aa"/>
<rect x="354.15" y="309.50" width="3" height="5.2" fill="#fff" class="aa"/>
<rect x="354.15" y="324.70" width="3" height="5.1" fill="#fff" class="aa"/>
<rect x="360.05" y="309.50" width="3" height="5.2" fill="#fff" class="aa"/>
<rect x="360.05" y="324.70" width="3" height="5.1" fill="#fff" class="aa"/>
<rect x="365.94" y="309.50" width="3" height="5.2" fill="#fff" class="aa"/>
<rect x="365.94" y="324.70" width="3" height="5.1" fill="#fff" class="aa"/>
<rect x="371.83" y="309.50" width="3" height="5.2" fill="#fff" class="aa"/>
<rect x="371.83" y="324.70" width="3" height="5.1" fill="#fff" class="aa"/>
<rect x="377.73" y="309.50" width="3" height="5.2" fill="#fff" class="aa"/>
<rect x="377.73" y="324.70" width="3" height="5.1" fill="#fff" class="aa"/>
<rect x="383.62" y="309.50" width="3" height="5.2" fill="#fff" class="aa"/>
<rect x="383.62" y="324.70" width="3" height="5.1" fill="#fff" class="aa"/>
<rect x="309.5" y="316.70" width="72" height="5.2" fill="#fff" class="aa"/>
<ellipse cx="389" cy="319.20" rx="3.2" ry="2.7" fill="#fff"/>
<rect x="329.5" y="99.3" width="34.5" height="18" rx="3.5" fill="#000" class="aa"/>
<rect x="332" y="101.6" width="28.8" height="13.8" rx="2.5" fill="#fff" class="aa"/>
<text transform="translate(346.2,113) scale(0.86,1)" font-size="13.2" text-anchor="middle" fill="#000" letter-spacing="0.3">TAG</text>
<rect x="342" y="133" width="5.5" height="6" fill="#000" />
<rect x="342" y="211" width="5.5" height="11" fill="#000" />
<rect x="342" y="233" width="5.5" height="11" fill="#000" />
<rect x="342" y="316" width="5.5" height="7" fill="#000" />
<rect x="338.3" y="137.7" width="16.6" height="75.4" rx="3" fill="#000" class="aa"/>
<rect x="339.6" y="139.3" width="13.6" height="72" rx="2" fill="#fff" class="aa"/>
<text transform="translate(346,151.6) scale(0.86,1)" font-size="12.5" text-anchor="middle" fill="#000"  letter-spacing="1.5">B</text>
<text transform="translate(346,165.8) scale(0.86,1)" font-size="12.5" text-anchor="middle" fill="#000"  letter-spacing="1.5">A</text>
<text transform="translate(346,180.6) scale(0.86,1)" font-size="12.5" text-anchor="middle" fill="#000"  letter-spacing="1.5">N</text>
<text transform="translate(346,194.8) scale(0.86,1)" font-size="12.5" text-anchor="middle" fill="#000"  letter-spacing="1.5">K</text>
<text transform="translate(346,208.7) scale(0.86,1)" font-size="12.5" text-anchor="middle" fill="#000"  letter-spacing="1.5">1</text>
<rect x="322.5" y="220" width="48.5" height="14.5" fill="#000" />
<rect x="323.6" y="221" width="46.4" height="12.5" fill="#fff" />
<text transform="translate(346.8,231.4) scale(0.86,1)" font-size="11.8" text-anchor="middle" fill="#000" textLength="48.8372" lengthAdjust="spacing" >CACHE</text>
<rect x="338" y="242" width="16.9" height="76.6" rx="3" fill="#000" class="aa"/>
<rect x="339.2" y="243.3" width="14.2" height="74" rx="2" fill="#fff" class="aa"/>
<text transform="translate(346,255.6) scale(0.86,1)" font-size="12.5" text-anchor="middle" fill="#000"  letter-spacing="1.5">B</text>
<text transform="translate(346,271) scale(0.86,1)" font-size="12.5" text-anchor="middle" fill="#000"  letter-spacing="1.5">A</text>
<text transform="translate(346,286) scale(0.86,1)" font-size="12.5" text-anchor="middle" fill="#000"  letter-spacing="1.5">N</text>
<text transform="translate(346,300.2) scale(0.86,1)" font-size="12.5" text-anchor="middle" fill="#000"  letter-spacing="1.5">K</text>
<text transform="translate(346,314.2) scale(0.86,1)" font-size="12.5" text-anchor="middle" fill="#000"  letter-spacing="1.5">0</text>
<rect x="745" y="134" width="43" height="127" fill="#000" />
<rect x="747" y="137" width="1" height="4" fill="#fff" />
<rect x="785" y="137" width="1" height="4" fill="#fff" />
<rect x="747" y="143.1" width="1" height="4" fill="#fff" />
<rect x="785" y="143.1" width="1" height="4" fill="#fff" />
<rect x="747" y="149.2" width="1" height="4" fill="#fff" />
<rect x="785" y="149.2" width="1" height="4" fill="#fff" />
<rect x="747" y="155.3" width="1" height="4" fill="#fff" />
<rect x="785" y="155.3" width="1" height="4" fill="#fff" />
<rect x="747" y="161.4" width="1" height="4" fill="#fff" />
<rect x="785" y="161.4" width="1" height="4" fill="#fff" />
<rect x="747" y="167.5" width="1" height="4" fill="#fff" />
<rect x="785" y="167.5" width="1" height="4" fill="#fff" />
<rect x="747" y="173.6" width="1" height="4" fill="#fff" />
<rect x="785" y="173.6" width="1" height="4" fill="#fff" />
<rect x="747" y="179.7" width="1" height="4" fill="#fff" />
<rect x="785" y="179.7" width="1" height="4" fill="#fff" />
<rect x="747" y="185.8" width="1" height="4" fill="#fff" />
<rect x="785" y="185.8" width="1" height="4" fill="#fff" />
<rect x="747" y="191.9" width="1" height="4" fill="#fff" />
<rect x="785" y="191.9" width="1" height="4" fill="#fff" />
<rect x="747" y="198" width="1" height="4" fill="#fff" />
<rect x="785" y="198" width="1" height="4" fill="#fff" />
<rect x="747" y="204.1" width="1" height="4" fill="#fff" />
<rect x="785" y="204.1" width="1" height="4" fill="#fff" />
<rect x="747" y="210.2" width="1" height="4" fill="#fff" />
<rect x="785" y="210.2" width="1" height="4" fill="#fff" />
<rect x="747" y="216.3" width="1" height="4" fill="#fff" />
<rect x="785" y="216.3" width="1" height="4" fill="#fff" />
<rect x="747" y="222.4" width="1" height="4" fill="#fff" />
<rect x="785" y="222.4" width="1" height="4" fill="#fff" />
<rect x="747" y="228.5" width="1" height="4" fill="#fff" />
<rect x="785" y="228.5" width="1" height="4" fill="#fff" />
<rect x="747" y="234.6" width="1" height="4" fill="#fff" />
<rect x="785" y="234.6" width="1" height="4" fill="#fff" />
<rect x="747" y="240.7" width="1" height="4" fill="#fff" />
<rect x="785" y="240.7" width="1" height="4" fill="#fff" />
<rect x="747" y="246.8" width="1" height="4" fill="#fff" />
<rect x="785" y="246.8" width="1" height="4" fill="#fff" />
<rect x="747" y="252.9" width="1" height="4" fill="#fff" />
<rect x="785" y="252.9" width="1" height="4" fill="#fff" />
<rect x="762" y="258" width="11" height="3" fill="#fff" />
<rect x="753" y="190.5" width="28.5" height="14" fill="#fff" />
<text transform="translate(768,200.5) scale(0.86,1)" font-size="13" text-anchor="middle" fill="#000" letter-spacing="2.3">KBD</text>
<rect x="427" y="307" width="88" height="41" fill="#000" />
<rect x="513" y="322" width="2" height="12" fill="#fff" />
<rect x="451" y="320" width="40" height="14.8" rx="1.5" fill="#fff" class="aa"/>
<text transform="translate(470.8,331.6) scale(0.86,1)" font-size="13" text-anchor="middle" fill="#000" letter-spacing="2.3">BIOS</text>
<rect x="407" y="355" width="226" height="19" fill="#000" />
<rect x="408" y="356" width="224" height="17" fill="#fff" />
<rect x="408" y="362" width="6" height="1" fill="#000" />
<rect x="408" y="369" width="6" height="1" fill="#000" />
<rect x="414" y="355" width="4" height="18" fill="#000" />
<rect x="418" y="356" width="8" height="1" fill="#000" />
<rect x="613" y="356" width="8" height="1" fill="#000" />
<rect x="425" y="356" width="1" height="6" fill="#000" />
<rect x="613" y="356" width="1" height="6" fill="#000" />
<rect x="425" y="361" width="3" height="1" fill="#000" />
<rect x="611" y="361" width="3" height="1" fill="#000" />
<rect x="427" y="361" width="1" height="10" fill="#000" />
<rect x="611" y="361" width="1" height="10" fill="#000" />
<rect x="418" y="370" width="10" height="1" fill="#000" />
<rect x="611" y="370" width="10" height="1" fill="#000" />
<rect x="418" y="360" width="3" height="1" fill="#000" />
<rect x="618" y="360" width="3" height="1" fill="#000" />
<rect x="420" y="360" width="1" height="4" fill="#000" />
<rect x="618" y="360" width="1" height="4" fill="#000" />
<rect x="420" y="363" width="6" height="1" fill="#000" />
<rect x="613" y="363" width="6" height="1" fill="#000" />
<rect x="625" y="362" width="7" height="1" fill="#000" />
<rect x="625" y="369" width="7" height="1" fill="#000" />
<rect x="621" y="355" width="4" height="18" fill="#000" />
<rect x="432" y="358" width="175" height="13.2" fill="#000" />
<rect x="434.70" y="365" width="4.2" height="5.3" fill="#fff" class="aa"/>
<rect x="436.00" y="359.2" width="1.7" height="3.8" fill="#fff" class="aa"/>
<rect x="440.62" y="365" width="4.2" height="5.3" fill="#fff" class="aa"/>
<rect x="441.92" y="359.2" width="1.7" height="3.8" fill="#fff" class="aa"/>
<rect x="446.54" y="365" width="4.2" height="5.3" fill="#fff" class="aa"/>
<rect x="447.84" y="359.2" width="1.7" height="3.8" fill="#fff" class="aa"/>
<rect x="452.46" y="365" width="4.2" height="5.3" fill="#fff" class="aa"/>
<rect x="453.76" y="359.2" width="1.7" height="3.8" fill="#fff" class="aa"/>
<rect x="458.38" y="365" width="4.2" height="5.3" fill="#fff" class="aa"/>
<rect x="459.68" y="359.2" width="1.7" height="3.8" fill="#fff" class="aa"/>
<rect x="464.30" y="365" width="4.2" height="5.3" fill="#fff" class="aa"/>
<rect x="465.60" y="359.2" width="1.7" height="3.8" fill="#fff" class="aa"/>
<rect x="470.22" y="365" width="4.2" height="5.3" fill="#fff" class="aa"/>
<rect x="471.52" y="359.2" width="1.7" height="3.8" fill="#fff" class="aa"/>
<rect x="476.14" y="365" width="4.2" height="5.3" fill="#fff" class="aa"/>
<rect x="477.44" y="359.2" width="1.7" height="3.8" fill="#fff" class="aa"/>
<rect x="482.06" y="365" width="4.2" height="5.3" fill="#fff" class="aa"/>
<rect x="483.36" y="359.2" width="1.7" height="3.8" fill="#fff" class="aa"/>
<rect x="487.98" y="365" width="4.2" height="5.3" fill="#fff" class="aa"/>
<rect x="489.28" y="359.2" width="1.7" height="3.8" fill="#fff" class="aa"/>
<rect x="493.90" y="365" width="4.2" height="5.3" fill="#fff" class="aa"/>
<rect x="495.20" y="359.2" width="1.7" height="3.8" fill="#fff" class="aa"/>
<rect x="499.82" y="365" width="4.2" height="5.3" fill="#fff" class="aa"/>
<rect x="501.12" y="359.2" width="1.7" height="3.8" fill="#fff" class="aa"/>
<rect x="505.74" y="365" width="4.2" height="5.3" fill="#fff" class="aa"/>
<rect x="507.04" y="359.2" width="1.7" height="3.8" fill="#fff" class="aa"/>
<rect x="511.66" y="365" width="4.2" height="5.3" fill="#fff" class="aa"/>
<rect x="512.96" y="359.2" width="1.7" height="3.8" fill="#fff" class="aa"/>
<rect x="517.58" y="365" width="4.2" height="5.3" fill="#fff" class="aa"/>
<rect x="518.88" y="359.2" width="1.7" height="3.8" fill="#fff" class="aa"/>
<rect x="523.50" y="365" width="4.2" height="5.3" fill="#fff" class="aa"/>
<rect x="524.80" y="359.2" width="1.7" height="3.8" fill="#fff" class="aa"/>
<rect x="529.42" y="365" width="4.2" height="5.3" fill="#fff" class="aa"/>
<rect x="530.72" y="359.2" width="1.7" height="3.8" fill="#fff" class="aa"/>
<rect x="535.34" y="365" width="4.2" height="5.3" fill="#fff" class="aa"/>
<rect x="536.64" y="359.2" width="1.7" height="3.8" fill="#fff" class="aa"/>
<rect x="541.26" y="365" width="4.2" height="5.3" fill="#fff" class="aa"/>
<rect x="542.56" y="359.2" width="1.7" height="3.8" fill="#fff" class="aa"/>
<rect x="547.18" y="365" width="4.2" height="5.3" fill="#fff" class="aa"/>
<rect x="548.48" y="359.2" width="1.7" height="3.8" fill="#fff" class="aa"/>
<rect x="553.10" y="365" width="4.2" height="5.3" fill="#fff" class="aa"/>
<rect x="554.40" y="359.2" width="1.7" height="3.8" fill="#fff" class="aa"/>
<rect x="559.02" y="365" width="4.2" height="5.3" fill="#fff" class="aa"/>
<rect x="560.32" y="359.2" width="1.7" height="3.8" fill="#fff" class="aa"/>
<rect x="564.94" y="365" width="4.2" height="5.3" fill="#fff" class="aa"/>
<rect x="566.24" y="359.2" width="1.7" height="3.8" fill="#fff" class="aa"/>
<rect x="570.86" y="365" width="4.2" height="5.3" fill="#fff" class="aa"/>
<rect x="572.16" y="359.2" width="1.7" height="3.8" fill="#fff" class="aa"/>
<rect x="576.78" y="365" width="4.2" height="5.3" fill="#fff" class="aa"/>
<rect x="578.08" y="359.2" width="1.7" height="3.8" fill="#fff" class="aa"/>
<rect x="582.70" y="365" width="4.2" height="5.3" fill="#fff" class="aa"/>
<rect x="584.00" y="359.2" width="1.7" height="3.8" fill="#fff" class="aa"/>
<rect x="588.62" y="365" width="4.2" height="5.3" fill="#fff" class="aa"/>
<rect x="589.92" y="359.2" width="1.7" height="3.8" fill="#fff" class="aa"/>
<rect x="594.54" y="365" width="4.2" height="5.3" fill="#fff" class="aa"/>
<rect x="595.84" y="359.2" width="1.7" height="3.8" fill="#fff" class="aa"/>
<rect x="600.46" y="365" width="4.2" height="5.3" fill="#fff" class="aa"/>
<rect x="601.76" y="359.2" width="1.7" height="3.8" fill="#fff" class="aa"/>
<rect x="407" y="376" width="226" height="19" fill="#000" />
<rect x="408" y="377" width="224" height="17" fill="#fff" />
<rect x="408" y="383" width="6" height="1" fill="#000" />
<rect x="408" y="390" width="6" height="1" fill="#000" />
<rect x="414" y="376" width="4" height="18" fill="#000" />
<rect x="418" y="377" width="8" height="1" fill="#000" />
<rect x="613" y="377" width="8" height="1" fill="#000" />
<rect x="425" y="377" width="1" height="6" fill="#000" />
<rect x="613" y="377" width="1" height="6" fill="#000" />
<rect x="425" y="382" width="3" height="1" fill="#000" />
<rect x="611" y="382" width="3" height="1" fill="#000" />
<rect x="427" y="382" width="1" height="10" fill="#000" />
<rect x="611" y="382" width="1" height="10" fill="#000" />
<rect x="418" y="391" width="10" height="1" fill="#000" />
<rect x="611" y="391" width="10" height="1" fill="#000" />
<rect x="418" y="381" width="3" height="1" fill="#000" />
<rect x="618" y="381" width="3" height="1" fill="#000" />
<rect x="420" y="381" width="1" height="4" fill="#000" />
<rect x="618" y="381" width="1" height="4" fill="#000" />
<rect x="420" y="384" width="6" height="1" fill="#000" />
<rect x="613" y="384" width="6" height="1" fill="#000" />
<rect x="625" y="383" width="7" height="1" fill="#000" />
<rect x="625" y="390" width="7" height="1" fill="#000" />
<rect x="621" y="376" width="4" height="18" fill="#000" />
<rect x="432" y="379" width="175" height="13.2" fill="#000" />
<rect x="434.70" y="386" width="4.2" height="5.3" fill="#fff" class="aa"/>
<rect x="436.00" y="380.2" width="1.7" height="3.8" fill="#fff" class="aa"/>
<rect x="440.62" y="386" width="4.2" height="5.3" fill="#fff" class="aa"/>
<rect x="441.92" y="380.2" width="1.7" height="3.8" fill="#fff" class="aa"/>
<rect x="446.54" y="386" width="4.2" height="5.3" fill="#fff" class="aa"/>
<rect x="447.84" y="380.2" width="1.7" height="3.8" fill="#fff" class="aa"/>
<rect x="452.46" y="386" width="4.2" height="5.3" fill="#fff" class="aa"/>
<rect x="453.76" y="380.2" width="1.7" height="3.8" fill="#fff" class="aa"/>
<rect x="458.38" y="386" width="4.2" height="5.3" fill="#fff" class="aa"/>
<rect x="459.68" y="380.2" width="1.7" height="3.8" fill="#fff" class="aa"/>
<rect x="464.30" y="386" width="4.2" height="5.3" fill="#fff" class="aa"/>
<rect x="465.60" y="380.2" width="1.7" height="3.8" fill="#fff" class="aa"/>
<rect x="470.22" y="386" width="4.2" height="5.3" fill="#fff" class="aa"/>
<rect x="471.52" y="380.2" width="1.7" height="3.8" fill="#fff" class="aa"/>
<rect x="476.14" y="386" width="4.2" height="5.3" fill="#fff" class="aa"/>
<rect x="477.44" y="380.2" width="1.7" height="3.8" fill="#fff" class="aa"/>
<rect x="482.06" y="386" width="4.2" height="5.3" fill="#fff" class="aa"/>
<rect x="483.36" y="380.2" width="1.7" height="3.8" fill="#fff" class="aa"/>
<rect x="487.98" y="386" width="4.2" height="5.3" fill="#fff" class="aa"/>
<rect x="489.28" y="380.2" width="1.7" height="3.8" fill="#fff" class="aa"/>
<rect x="493.90" y="386" width="4.2" height="5.3" fill="#fff" class="aa"/>
<rect x="495.20" y="380.2" width="1.7" height="3.8" fill="#fff" class="aa"/>
<rect x="499.82" y="386" width="4.2" height="5.3" fill="#fff" class="aa"/>
<rect x="501.12" y="380.2" width="1.7" height="3.8" fill="#fff" class="aa"/>
<rect x="505.74" y="386" width="4.2" height="5.3" fill="#fff" class="aa"/>
<rect x="507.04" y="380.2" width="1.7" height="3.8" fill="#fff" class="aa"/>
<rect x="511.66" y="386" width="4.2" height="5.3" fill="#fff" class="aa"/>
<rect x="512.96" y="380.2" width="1.7" height="3.8" fill="#fff" class="aa"/>
<rect x="517.58" y="386" width="4.2" height="5.3" fill="#fff" class="aa"/>
<rect x="518.88" y="380.2" width="1.7" height="3.8" fill="#fff" class="aa"/>
<rect x="523.50" y="386" width="4.2" height="5.3" fill="#fff" class="aa"/>
<rect x="524.80" y="380.2" width="1.7" height="3.8" fill="#fff" class="aa"/>
<rect x="529.42" y="386" width="4.2" height="5.3" fill="#fff" class="aa"/>
<rect x="530.72" y="380.2" width="1.7" height="3.8" fill="#fff" class="aa"/>
<rect x="535.34" y="386" width="4.2" height="5.3" fill="#fff" class="aa"/>
<rect x="536.64" y="380.2" width="1.7" height="3.8" fill="#fff" class="aa"/>
<rect x="541.26" y="386" width="4.2" height="5.3" fill="#fff" class="aa"/>
<rect x="542.56" y="380.2" width="1.7" height="3.8" fill="#fff" class="aa"/>
<rect x="547.18" y="386" width="4.2" height="5.3" fill="#fff" class="aa"/>
<rect x="548.48" y="380.2" width="1.7" height="3.8" fill="#fff" class="aa"/>
<rect x="553.10" y="386" width="4.2" height="5.3" fill="#fff" class="aa"/>
<rect x="554.40" y="380.2" width="1.7" height="3.8" fill="#fff" class="aa"/>
<rect x="559.02" y="386" width="4.2" height="5.3" fill="#fff" class="aa"/>
<rect x="560.32" y="380.2" width="1.7" height="3.8" fill="#fff" class="aa"/>
<rect x="564.94" y="386" width="4.2" height="5.3" fill="#fff" class="aa"/>
<rect x="566.24" y="380.2" width="1.7" height="3.8" fill="#fff" class="aa"/>
<rect x="570.86" y="386" width="4.2" height="5.3" fill="#fff" class="aa"/>
<rect x="572.16" y="380.2" width="1.7" height="3.8" fill="#fff" class="aa"/>
<rect x="576.78" y="386" width="4.2" height="5.3" fill="#fff" class="aa"/>
<rect x="578.08" y="380.2" width="1.7" height="3.8" fill="#fff" class="aa"/>
<rect x="582.70" y="386" width="4.2" height="5.3" fill="#fff" class="aa"/>
<rect x="584.00" y="380.2" width="1.7" height="3.8" fill="#fff" class="aa"/>
<rect x="588.62" y="386" width="4.2" height="5.3" fill="#fff" class="aa"/>
<rect x="589.92" y="380.2" width="1.7" height="3.8" fill="#fff" class="aa"/>
<rect x="594.54" y="386" width="4.2" height="5.3" fill="#fff" class="aa"/>
<rect x="595.84" y="380.2" width="1.7" height="3.8" fill="#fff" class="aa"/>
<rect x="600.46" y="386" width="4.2" height="5.3" fill="#fff" class="aa"/>
<rect x="601.76" y="380.2" width="1.7" height="3.8" fill="#fff" class="aa"/>
<rect x="407" y="396" width="226" height="19" fill="#000" />
<rect x="408" y="397" width="224" height="17" fill="#fff" />
<rect x="408" y="403" width="6" height="1" fill="#000" />
<rect x="408" y="410" width="6" height="1" fill="#000" />
<rect x="414" y="396" width="4" height="18" fill="#000" />
<rect x="418" y="397" width="8" height="1" fill="#000" />
<rect x="613" y="397" width="8" height="1" fill="#000" />
<rect x="425" y="397" width="1" height="6" fill="#000" />
<rect x="613" y="397" width="1" height="6" fill="#000" />
<rect x="425" y="402" width="3" height="1" fill="#000" />
<rect x="611" y="402" width="3" height="1" fill="#000" />
<rect x="427" y="402" width="1" height="10" fill="#000" />
<rect x="611" y="402" width="1" height="10" fill="#000" />
<rect x="418" y="411" width="10" height="1" fill="#000" />
<rect x="611" y="411" width="10" height="1" fill="#000" />
<rect x="418" y="401" width="3" height="1" fill="#000" />
<rect x="618" y="401" width="3" height="1" fill="#000" />
<rect x="420" y="401" width="1" height="4" fill="#000" />
<rect x="618" y="401" width="1" height="4" fill="#000" />
<rect x="420" y="404" width="6" height="1" fill="#000" />
<rect x="613" y="404" width="6" height="1" fill="#000" />
<rect x="625" y="403" width="7" height="1" fill="#000" />
<rect x="625" y="410" width="7" height="1" fill="#000" />
<rect x="621" y="396" width="4" height="18" fill="#000" />
<rect x="432" y="399" width="175" height="13.2" fill="#000" />
<rect x="434.70" y="406" width="4.2" height="5.3" fill="#fff" class="aa"/>
<rect x="436.00" y="400.2" width="1.7" height="3.8" fill="#fff" class="aa"/>
<rect x="440.62" y="406" width="4.2" height="5.3" fill="#fff" class="aa"/>
<rect x="441.92" y="400.2" width="1.7" height="3.8" fill="#fff" class="aa"/>
<rect x="446.54" y="406" width="4.2" height="5.3" fill="#fff" class="aa"/>
<rect x="447.84" y="400.2" width="1.7" height="3.8" fill="#fff" class="aa"/>
<rect x="452.46" y="406" width="4.2" height="5.3" fill="#fff" class="aa"/>
<rect x="453.76" y="400.2" width="1.7" height="3.8" fill="#fff" class="aa"/>
<rect x="458.38" y="406" width="4.2" height="5.3" fill="#fff" class="aa"/>
<rect x="459.68" y="400.2" width="1.7" height="3.8" fill="#fff" class="aa"/>
<rect x="464.30" y="406" width="4.2" height="5.3" fill="#fff" class="aa"/>
<rect x="465.60" y="400.2" width="1.7" height="3.8" fill="#fff" class="aa"/>
<rect x="470.22" y="406" width="4.2" height="5.3" fill="#fff" class="aa"/>
<rect x="471.52" y="400.2" width="1.7" height="3.8" fill="#fff" class="aa"/>
<rect x="476.14" y="406" width="4.2" height="5.3" fill="#fff" class="aa"/>
<rect x="477.44" y="400.2" width="1.7" height="3.8" fill="#fff" class="aa"/>
<rect x="482.06" y="406" width="4.2" height="5.3" fill="#fff" class="aa"/>
<rect x="483.36" y="400.2" width="1.7" height="3.8" fill="#fff" class="aa"/>
<rect x="487.98" y="406" width="4.2" height="5.3" fill="#fff" class="aa"/>
<rect x="489.28" y="400.2" width="1.7" height="3.8" fill="#fff" class="aa"/>
<rect x="493.90" y="406" width="4.2" height="5.3" fill="#fff" class="aa"/>
<rect x="495.20" y="400.2" width="1.7" height="3.8" fill="#fff" class="aa"/>
<rect x="499.82" y="406" width="4.2" height="5.3" fill="#fff" class="aa"/>
<rect x="501.12" y="400.2" width="1.7" height="3.8" fill="#fff" class="aa"/>
<rect x="505.74" y="406" width="4.2" height="5.3" fill="#fff" class="aa"/>
<rect x="507.04" y="400.2" width="1.7" height="3.8" fill="#fff" class="aa"/>
<rect x="511.66" y="406" width="4.2" height="5.3" fill="#fff" class="aa"/>
<rect x="512.96" y="400.2" width="1.7" height="3.8" fill="#fff" class="aa"/>
<rect x="517.58" y="406" width="4.2" height="5.3" fill="#fff" class="aa"/>
<rect x="518.88" y="400.2" width="1.7" height="3.8" fill="#fff" class="aa"/>
<rect x="523.50" y="406" width="4.2" height="5.3" fill="#fff" class="aa"/>
<rect x="524.80" y="400.2" width="1.7" height="3.8" fill="#fff" class="aa"/>
<rect x="529.42" y="406" width="4.2" height="5.3" fill="#fff" class="aa"/>
<rect x="530.72" y="400.2" width="1.7" height="3.8" fill="#fff" class="aa"/>
<rect x="535.34" y="406" width="4.2" height="5.3" fill="#fff" class="aa"/>
<rect x="536.64" y="400.2" width="1.7" height="3.8" fill="#fff" class="aa"/>
<rect x="541.26" y="406" width="4.2" height="5.3" fill="#fff" class="aa"/>
<rect x="542.56" y="400.2" width="1.7" height="3.8" fill="#fff" class="aa"/>
<rect x="547.18" y="406" width="4.2" height="5.3" fill="#fff" class="aa"/>
<rect x="548.48" y="400.2" width="1.7" height="3.8" fill="#fff" class="aa"/>
<rect x="553.10" y="406" width="4.2" height="5.3" fill="#fff" class="aa"/>
<rect x="554.40" y="400.2" width="1.7" height="3.8" fill="#fff" class="aa"/>
<rect x="559.02" y="406" width="4.2" height="5.3" fill="#fff" class="aa"/>
<rect x="560.32" y="400.2" width="1.7" height="3.8" fill="#fff" class="aa"/>
<rect x="564.94" y="406" width="4.2" height="5.3" fill="#fff" class="aa"/>
<rect x="566.24" y="400.2" width="1.7" height="3.8" fill="#fff" class="aa"/>
<rect x="570.86" y="406" width="4.2" height="5.3" fill="#fff" class="aa"/>
<rect x="572.16" y="400.2" width="1.7" height="3.8" fill="#fff" class="aa"/>
<rect x="576.78" y="406" width="4.2" height="5.3" fill="#fff" class="aa"/>
<rect x="578.08" y="400.2" width="1.7" height="3.8" fill="#fff" class="aa"/>
<rect x="582.70" y="406" width="4.2" height="5.3" fill="#fff" class="aa"/>
<rect x="584.00" y="400.2" width="1.7" height="3.8" fill="#fff" class="aa"/>
<rect x="588.62" y="406" width="4.2" height="5.3" fill="#fff" class="aa"/>
<rect x="589.92" y="400.2" width="1.7" height="3.8" fill="#fff" class="aa"/>
<rect x="594.54" y="406" width="4.2" height="5.3" fill="#fff" class="aa"/>
<rect x="595.84" y="400.2" width="1.7" height="3.8" fill="#fff" class="aa"/>
<rect x="600.46" y="406" width="4.2" height="5.3" fill="#fff" class="aa"/>
<rect x="601.76" y="400.2" width="1.7" height="3.8" fill="#fff" class="aa"/>
<rect x="407" y="416" width="226" height="19" fill="#000" />
<rect x="408" y="417" width="224" height="17" fill="#fff" />
<rect x="408" y="423" width="6" height="1" fill="#000" />
<rect x="408" y="430" width="6" height="1" fill="#000" />
<rect x="414" y="416" width="4" height="18" fill="#000" />
<rect x="418" y="417" width="8" height="1" fill="#000" />
<rect x="613" y="417" width="8" height="1" fill="#000" />
<rect x="425" y="417" width="1" height="6" fill="#000" />
<rect x="613" y="417" width="1" height="6" fill="#000" />
<rect x="425" y="422" width="3" height="1" fill="#000" />
<rect x="611" y="422" width="3" height="1" fill="#000" />
<rect x="427" y="422" width="1" height="10" fill="#000" />
<rect x="611" y="422" width="1" height="10" fill="#000" />
<rect x="418" y="431" width="10" height="1" fill="#000" />
<rect x="611" y="431" width="10" height="1" fill="#000" />
<rect x="418" y="421" width="3" height="1" fill="#000" />
<rect x="618" y="421" width="3" height="1" fill="#000" />
<rect x="420" y="421" width="1" height="4" fill="#000" />
<rect x="618" y="421" width="1" height="4" fill="#000" />
<rect x="420" y="424" width="6" height="1" fill="#000" />
<rect x="613" y="424" width="6" height="1" fill="#000" />
<rect x="625" y="423" width="7" height="1" fill="#000" />
<rect x="625" y="430" width="7" height="1" fill="#000" />
<rect x="621" y="416" width="4" height="18" fill="#000" />
<rect x="432" y="419" width="175" height="13.2" fill="#000" />
<rect x="434.70" y="426" width="4.2" height="5.3" fill="#fff" class="aa"/>
<rect x="436.00" y="420.2" width="1.7" height="3.8" fill="#fff" class="aa"/>
<rect x="440.62" y="426" width="4.2" height="5.3" fill="#fff" class="aa"/>
<rect x="441.92" y="420.2" width="1.7" height="3.8" fill="#fff" class="aa"/>
<rect x="446.54" y="426" width="4.2" height="5.3" fill="#fff" class="aa"/>
<rect x="447.84" y="420.2" width="1.7" height="3.8" fill="#fff" class="aa"/>
<rect x="452.46" y="426" width="4.2" height="5.3" fill="#fff" class="aa"/>
<rect x="453.76" y="420.2" width="1.7" height="3.8" fill="#fff" class="aa"/>
<rect x="458.38" y="426" width="4.2" height="5.3" fill="#fff" class="aa"/>
<rect x="459.68" y="420.2" width="1.7" height="3.8" fill="#fff" class="aa"/>
<rect x="464.30" y="426" width="4.2" height="5.3" fill="#fff" class="aa"/>
<rect x="465.60" y="420.2" width="1.7" height="3.8" fill="#fff" class="aa"/>
<rect x="470.22" y="426" width="4.2" height="5.3" fill="#fff" class="aa"/>
<rect x="471.52" y="420.2" width="1.7" height="3.8" fill="#fff" class="aa"/>
<rect x="476.14" y="426" width="4.2" height="5.3" fill="#fff" class="aa"/>
<rect x="477.44" y="420.2" width="1.7" height="3.8" fill="#fff" class="aa"/>
<rect x="482.06" y="426" width="4.2" height="5.3" fill="#fff" class="aa"/>
<rect x="483.36" y="420.2" width="1.7" height="3.8" fill="#fff" class="aa"/>
<rect x="487.98" y="426" width="4.2" height="5.3" fill="#fff" class="aa"/>
<rect x="489.28" y="420.2" width="1.7" height="3.8" fill="#fff" class="aa"/>
<rect x="493.90" y="426" width="4.2" height="5.3" fill="#fff" class="aa"/>
<rect x="495.20" y="420.2" width="1.7" height="3.8" fill="#fff" class="aa"/>
<rect x="499.82" y="426" width="4.2" height="5.3" fill="#fff" class="aa"/>
<rect x="501.12" y="420.2" width="1.7" height="3.8" fill="#fff" class="aa"/>
<rect x="505.74" y="426" width="4.2" height="5.3" fill="#fff" class="aa"/>
<rect x="507.04" y="420.2" width="1.7" height="3.8" fill="#fff" class="aa"/>
<rect x="511.66" y="426" width="4.2" height="5.3" fill="#fff" class="aa"/>
<rect x="512.96" y="420.2" width="1.7" height="3.8" fill="#fff" class="aa"/>
<rect x="517.58" y="426" width="4.2" height="5.3" fill="#fff" class="aa"/>
<rect x="518.88" y="420.2" width="1.7" height="3.8" fill="#fff" class="aa"/>
<rect x="523.50" y="426" width="4.2" height="5.3" fill="#fff" class="aa"/>
<rect x="524.80" y="420.2" width="1.7" height="3.8" fill="#fff" class="aa"/>
<rect x="529.42" y="426" width="4.2" height="5.3" fill="#fff" class="aa"/>
<rect x="530.72" y="420.2" width="1.7" height="3.8" fill="#fff" class="aa"/>
<rect x="535.34" y="426" width="4.2" height="5.3" fill="#fff" class="aa"/>
<rect x="536.64" y="420.2" width="1.7" height="3.8" fill="#fff" class="aa"/>
<rect x="541.26" y="426" width="4.2" height="5.3" fill="#fff" class="aa"/>
<rect x="542.56" y="420.2" width="1.7" height="3.8" fill="#fff" class="aa"/>
<rect x="547.18" y="426" width="4.2" height="5.3" fill="#fff" class="aa"/>
<rect x="548.48" y="420.2" width="1.7" height="3.8" fill="#fff" class="aa"/>
<rect x="553.10" y="426" width="4.2" height="5.3" fill="#fff" class="aa"/>
<rect x="554.40" y="420.2" width="1.7" height="3.8" fill="#fff" class="aa"/>
<rect x="559.02" y="426" width="4.2" height="5.3" fill="#fff" class="aa"/>
<rect x="560.32" y="420.2" width="1.7" height="3.8" fill="#fff" class="aa"/>
<rect x="564.94" y="426" width="4.2" height="5.3" fill="#fff" class="aa"/>
<rect x="566.24" y="420.2" width="1.7" height="3.8" fill="#fff" class="aa"/>
<rect x="570.86" y="426" width="4.2" height="5.3" fill="#fff" class="aa"/>
<rect x="572.16" y="420.2" width="1.7" height="3.8" fill="#fff" class="aa"/>
<rect x="576.78" y="426" width="4.2" height="5.3" fill="#fff" class="aa"/>
<rect x="578.08" y="420.2" width="1.7" height="3.8" fill="#fff" class="aa"/>
<rect x="582.70" y="426" width="4.2" height="5.3" fill="#fff" class="aa"/>
<rect x="584.00" y="420.2" width="1.7" height="3.8" fill="#fff" class="aa"/>
<rect x="588.62" y="426" width="4.2" height="5.3" fill="#fff" class="aa"/>
<rect x="589.92" y="420.2" width="1.7" height="3.8" fill="#fff" class="aa"/>
<rect x="594.54" y="426" width="4.2" height="5.3" fill="#fff" class="aa"/>
<rect x="595.84" y="420.2" width="1.7" height="3.8" fill="#fff" class="aa"/>
<rect x="600.46" y="426" width="4.2" height="5.3" fill="#fff" class="aa"/>
<rect x="601.76" y="420.2" width="1.7" height="3.8" fill="#fff" class="aa"/>
<rect x="407" y="436" width="226" height="19" fill="#000" />
<rect x="408" y="437" width="224" height="17" fill="#fff" />
<rect x="408" y="443" width="6" height="1" fill="#000" />
<rect x="408" y="450" width="6" height="1" fill="#000" />
<rect x="414" y="436" width="4" height="18" fill="#000" />
<rect x="418" y="437" width="8" height="1" fill="#000" />
<rect x="613" y="437" width="8" height="1" fill="#000" />
<rect x="425" y="437" width="1" height="6" fill="#000" />
<rect x="613" y="437" width="1" height="6" fill="#000" />
<rect x="425" y="442" width="3" height="1" fill="#000" />
<rect x="611" y="442" width="3" height="1" fill="#000" />
<rect x="427" y="442" width="1" height="10" fill="#000" />
<rect x="611" y="442" width="1" height="10" fill="#000" />
<rect x="418" y="451" width="10" height="1" fill="#000" />
<rect x="611" y="451" width="10" height="1" fill="#000" />
<rect x="418" y="441" width="3" height="1" fill="#000" />
<rect x="618" y="441" width="3" height="1" fill="#000" />
<rect x="420" y="441" width="1" height="4" fill="#000" />
<rect x="618" y="441" width="1" height="4" fill="#000" />
<rect x="420" y="444" width="6" height="1" fill="#000" />
<rect x="613" y="444" width="6" height="1" fill="#000" />
<rect x="625" y="443" width="7" height="1" fill="#000" />
<rect x="625" y="450" width="7" height="1" fill="#000" />
<rect x="621" y="436" width="4" height="18" fill="#000" />
<rect x="432" y="439" width="175" height="13.2" fill="#000" />
<rect x="434.70" y="446" width="4.2" height="5.3" fill="#fff" class="aa"/>
<rect x="436.00" y="440.2" width="1.7" height="3.8" fill="#fff" class="aa"/>
<rect x="440.62" y="446" width="4.2" height="5.3" fill="#fff" class="aa"/>
<rect x="441.92" y="440.2" width="1.7" height="3.8" fill="#fff" class="aa"/>
<rect x="446.54" y="446" width="4.2" height="5.3" fill="#fff" class="aa"/>
<rect x="447.84" y="440.2" width="1.7" height="3.8" fill="#fff" class="aa"/>
<rect x="452.46" y="446" width="4.2" height="5.3" fill="#fff" class="aa"/>
<rect x="453.76" y="440.2" width="1.7" height="3.8" fill="#fff" class="aa"/>
<rect x="458.38" y="446" width="4.2" height="5.3" fill="#fff" class="aa"/>
<rect x="459.68" y="440.2" width="1.7" height="3.8" fill="#fff" class="aa"/>
<rect x="464.30" y="446" width="4.2" height="5.3" fill="#fff" class="aa"/>
<rect x="465.60" y="440.2" width="1.7" height="3.8" fill="#fff" class="aa"/>
<rect x="470.22" y="446" width="4.2" height="5.3" fill="#fff" class="aa"/>
<rect x="471.52" y="440.2" width="1.7" height="3.8" fill="#fff" class="aa"/>
<rect x="476.14" y="446" width="4.2" height="5.3" fill="#fff" class="aa"/>
<rect x="477.44" y="440.2" width="1.7" height="3.8" fill="#fff" class="aa"/>
<rect x="482.06" y="446" width="4.2" height="5.3" fill="#fff" class="aa"/>
<rect x="483.36" y="440.2" width="1.7" height="3.8" fill="#fff" class="aa"/>
<rect x="487.98" y="446" width="4.2" height="5.3" fill="#fff" class="aa"/>
<rect x="489.28" y="440.2" width="1.7" height="3.8" fill="#fff" class="aa"/>
<rect x="493.90" y="446" width="4.2" height="5.3" fill="#fff" class="aa"/>
<rect x="495.20" y="440.2" width="1.7" height="3.8" fill="#fff" class="aa"/>
<rect x="499.82" y="446" width="4.2" height="5.3" fill="#fff" class="aa"/>
<rect x="501.12" y="440.2" width="1.7" height="3.8" fill="#fff" class="aa"/>
<rect x="505.74" y="446" width="4.2" height="5.3" fill="#fff" class="aa"/>
<rect x="507.04" y="440.2" width="1.7" height="3.8" fill="#fff" class="aa"/>
<rect x="511.66" y="446" width="4.2" height="5.3" fill="#fff" class="aa"/>
<rect x="512.96" y="440.2" width="1.7" height="3.8" fill="#fff" class="aa"/>
<rect x="517.58" y="446" width="4.2" height="5.3" fill="#fff" class="aa"/>
<rect x="518.88" y="440.2" width="1.7" height="3.8" fill="#fff" class="aa"/>
<rect x="523.50" y="446" width="4.2" height="5.3" fill="#fff" class="aa"/>
<rect x="524.80" y="440.2" width="1.7" height="3.8" fill="#fff" class="aa"/>
<rect x="529.42" y="446" width="4.2" height="5.3" fill="#fff" class="aa"/>
<rect x="530.72" y="440.2" width="1.7" height="3.8" fill="#fff" class="aa"/>
<rect x="535.34" y="446" width="4.2" height="5.3" fill="#fff" class="aa"/>
<rect x="536.64" y="440.2" width="1.7" height="3.8" fill="#fff" class="aa"/>
<rect x="541.26" y="446" width="4.2" height="5.3" fill="#fff" class="aa"/>
<rect x="542.56" y="440.2" width="1.7" height="3.8" fill="#fff" class="aa"/>
<rect x="547.18" y="446" width="4.2" height="5.3" fill="#fff" class="aa"/>
<rect x="548.48" y="440.2" width="1.7" height="3.8" fill="#fff" class="aa"/>
<rect x="553.10" y="446" width="4.2" height="5.3" fill="#fff" class="aa"/>
<rect x="554.40" y="440.2" width="1.7" height="3.8" fill="#fff" class="aa"/>
<rect x="559.02" y="446" width="4.2" height="5.3" fill="#fff" class="aa"/>
<rect x="560.32" y="440.2" width="1.7" height="3.8" fill="#fff" class="aa"/>
<rect x="564.94" y="446" width="4.2" height="5.3" fill="#fff" class="aa"/>
<rect x="566.24" y="440.2" width="1.7" height="3.8" fill="#fff" class="aa"/>
<rect x="570.86" y="446" width="4.2" height="5.3" fill="#fff" class="aa"/>
<rect x="572.16" y="440.2" width="1.7" height="3.8" fill="#fff" class="aa"/>
<rect x="576.78" y="446" width="4.2" height="5.3" fill="#fff" class="aa"/>
<rect x="578.08" y="440.2" width="1.7" height="3.8" fill="#fff" class="aa"/>
<rect x="582.70" y="446" width="4.2" height="5.3" fill="#fff" class="aa"/>
<rect x="584.00" y="440.2" width="1.7" height="3.8" fill="#fff" class="aa"/>
<rect x="588.62" y="446" width="4.2" height="5.3" fill="#fff" class="aa"/>
<rect x="589.92" y="440.2" width="1.7" height="3.8" fill="#fff" class="aa"/>
<rect x="594.54" y="446" width="4.2" height="5.3" fill="#fff" class="aa"/>
<rect x="595.84" y="440.2" width="1.7" height="3.8" fill="#fff" class="aa"/>
<rect x="600.46" y="446" width="4.2" height="5.3" fill="#fff" class="aa"/>
<rect x="601.76" y="440.2" width="1.7" height="3.8" fill="#fff" class="aa"/>
<rect x="407" y="456" width="226" height="19" fill="#000" />
<rect x="408" y="457" width="224" height="17" fill="#fff" />
<rect x="408" y="463" width="6" height="1" fill="#000" />
<rect x="408" y="470" width="6" height="1" fill="#000" />
<rect x="414" y="456" width="4" height="18" fill="#000" />
<rect x="418" y="457" width="8" height="1" fill="#000" />
<rect x="613" y="457" width="8" height="1" fill="#000" />
<rect x="425" y="457" width="1" height="6" fill="#000" />
<rect x="613" y="457" width="1" height="6" fill="#000" />
<rect x="425" y="462" width="3" height="1" fill="#000" />
<rect x="611" y="462" width="3" height="1" fill="#000" />
<rect x="427" y="462" width="1" height="10" fill="#000" />
<rect x="611" y="462" width="1" height="10" fill="#000" />
<rect x="418" y="471" width="10" height="1" fill="#000" />
<rect x="611" y="471" width="10" height="1" fill="#000" />
<rect x="418" y="461" width="3" height="1" fill="#000" />
<rect x="618" y="461" width="3" height="1" fill="#000" />
<rect x="420" y="461" width="1" height="4" fill="#000" />
<rect x="618" y="461" width="1" height="4" fill="#000" />
<rect x="420" y="464" width="6" height="1" fill="#000" />
<rect x="613" y="464" width="6" height="1" fill="#000" />
<rect x="625" y="463" width="7" height="1" fill="#000" />
<rect x="625" y="470" width="7" height="1" fill="#000" />
<rect x="621" y="456" width="4" height="18" fill="#000" />
<rect x="432" y="459" width="175" height="13.2" fill="#000" />
<rect x="434.70" y="466" width="4.2" height="5.3" fill="#fff" class="aa"/>
<rect x="436.00" y="460.2" width="1.7" height="3.8" fill="#fff" class="aa"/>
<rect x="440.62" y="466" width="4.2" height="5.3" fill="#fff" class="aa"/>
<rect x="441.92" y="460.2" width="1.7" height="3.8" fill="#fff" class="aa"/>
<rect x="446.54" y="466" width="4.2" height="5.3" fill="#fff" class="aa"/>
<rect x="447.84" y="460.2" width="1.7" height="3.8" fill="#fff" class="aa"/>
<rect x="452.46" y="466" width="4.2" height="5.3" fill="#fff" class="aa"/>
<rect x="453.76" y="460.2" width="1.7" height="3.8" fill="#fff" class="aa"/>
<rect x="458.38" y="466" width="4.2" height="5.3" fill="#fff" class="aa"/>
<rect x="459.68" y="460.2" width="1.7" height="3.8" fill="#fff" class="aa"/>
<rect x="464.30" y="466" width="4.2" height="5.3" fill="#fff" class="aa"/>
<rect x="465.60" y="460.2" width="1.7" height="3.8" fill="#fff" class="aa"/>
<rect x="470.22" y="466" width="4.2" height="5.3" fill="#fff" class="aa"/>
<rect x="471.52" y="460.2" width="1.7" height="3.8" fill="#fff" class="aa"/>
<rect x="476.14" y="466" width="4.2" height="5.3" fill="#fff" class="aa"/>
<rect x="477.44" y="460.2" width="1.7" height="3.8" fill="#fff" class="aa"/>
<rect x="482.06" y="466" width="4.2" height="5.3" fill="#fff" class="aa"/>
<rect x="483.36" y="460.2" width="1.7" height="3.8" fill="#fff" class="aa"/>
<rect x="487.98" y="466" width="4.2" height="5.3" fill="#fff" class="aa"/>
<rect x="489.28" y="460.2" width="1.7" height="3.8" fill="#fff" class="aa"/>
<rect x="493.90" y="466" width="4.2" height="5.3" fill="#fff" class="aa"/>
<rect x="495.20" y="460.2" width="1.7" height="3.8" fill="#fff" class="aa"/>
<rect x="499.82" y="466" width="4.2" height="5.3" fill="#fff" class="aa"/>
<rect x="501.12" y="460.2" width="1.7" height="3.8" fill="#fff" class="aa"/>
<rect x="505.74" y="466" width="4.2" height="5.3" fill="#fff" class="aa"/>
<rect x="507.04" y="460.2" width="1.7" height="3.8" fill="#fff" class="aa"/>
<rect x="511.66" y="466" width="4.2" height="5.3" fill="#fff" class="aa"/>
<rect x="512.96" y="460.2" width="1.7" height="3.8" fill="#fff" class="aa"/>
<rect x="517.58" y="466" width="4.2" height="5.3" fill="#fff" class="aa"/>
<rect x="518.88" y="460.2" width="1.7" height="3.8" fill="#fff" class="aa"/>
<rect x="523.50" y="466" width="4.2" height="5.3" fill="#fff" class="aa"/>
<rect x="524.80" y="460.2" width="1.7" height="3.8" fill="#fff" class="aa"/>
<rect x="529.42" y="466" width="4.2" height="5.3" fill="#fff" class="aa"/>
<rect x="530.72" y="460.2" width="1.7" height="3.8" fill="#fff" class="aa"/>
<rect x="535.34" y="466" width="4.2" height="5.3" fill="#fff" class="aa"/>
<rect x="536.64" y="460.2" width="1.7" height="3.8" fill="#fff" class="aa"/>
<rect x="541.26" y="466" width="4.2" height="5.3" fill="#fff" class="aa"/>
<rect x="542.56" y="460.2" width="1.7" height="3.8" fill="#fff" class="aa"/>
<rect x="547.18" y="466" width="4.2" height="5.3" fill="#fff" class="aa"/>
<rect x="548.48" y="460.2" width="1.7" height="3.8" fill="#fff" class="aa"/>
<rect x="553.10" y="466" width="4.2" height="5.3" fill="#fff" class="aa"/>
<rect x="554.40" y="460.2" width="1.7" height="3.8" fill="#fff" class="aa"/>
<rect x="559.02" y="466" width="4.2" height="5.3" fill="#fff" class="aa"/>
<rect x="560.32" y="460.2" width="1.7" height="3.8" fill="#fff" class="aa"/>
<rect x="564.94" y="466" width="4.2" height="5.3" fill="#fff" class="aa"/>
<rect x="566.24" y="460.2" width="1.7" height="3.8" fill="#fff" class="aa"/>
<rect x="570.86" y="466" width="4.2" height="5.3" fill="#fff" class="aa"/>
<rect x="572.16" y="460.2" width="1.7" height="3.8" fill="#fff" class="aa"/>
<rect x="576.78" y="466" width="4.2" height="5.3" fill="#fff" class="aa"/>
<rect x="578.08" y="460.2" width="1.7" height="3.8" fill="#fff" class="aa"/>
<rect x="582.70" y="466" width="4.2" height="5.3" fill="#fff" class="aa"/>
<rect x="584.00" y="460.2" width="1.7" height="3.8" fill="#fff" class="aa"/>
<rect x="588.62" y="466" width="4.2" height="5.3" fill="#fff" class="aa"/>
<rect x="589.92" y="460.2" width="1.7" height="3.8" fill="#fff" class="aa"/>
<rect x="594.54" y="466" width="4.2" height="5.3" fill="#fff" class="aa"/>
<rect x="595.84" y="460.2" width="1.7" height="3.8" fill="#fff" class="aa"/>
<rect x="600.46" y="466" width="4.2" height="5.3" fill="#fff" class="aa"/>
<rect x="601.76" y="460.2" width="1.7" height="3.8" fill="#fff" class="aa"/>
<rect x="407" y="477" width="226" height="19" fill="#000" />
<rect x="408" y="478" width="224" height="17" fill="#fff" />
<rect x="408" y="484" width="6" height="1" fill="#000" />
<rect x="408" y="491" width="6" height="1" fill="#000" />
<rect x="414" y="477" width="4" height="18" fill="#000" />
<rect x="418" y="478" width="8" height="1" fill="#000" />
<rect x="613" y="478" width="8" height="1" fill="#000" />
<rect x="425" y="478" width="1" height="6" fill="#000" />
<rect x="613" y="478" width="1" height="6" fill="#000" />
<rect x="425" y="483" width="3" height="1" fill="#000" />
<rect x="611" y="483" width="3" height="1" fill="#000" />
<rect x="427" y="483" width="1" height="10" fill="#000" />
<rect x="611" y="483" width="1" height="10" fill="#000" />
<rect x="418" y="492" width="10" height="1" fill="#000" />
<rect x="611" y="492" width="10" height="1" fill="#000" />
<rect x="418" y="482" width="3" height="1" fill="#000" />
<rect x="618" y="482" width="3" height="1" fill="#000" />
<rect x="420" y="482" width="1" height="4" fill="#000" />
<rect x="618" y="482" width="1" height="4" fill="#000" />
<rect x="420" y="485" width="6" height="1" fill="#000" />
<rect x="613" y="485" width="6" height="1" fill="#000" />
<rect x="625" y="484" width="7" height="1" fill="#000" />
<rect x="625" y="491" width="7" height="1" fill="#000" />
<rect x="621" y="477" width="4" height="18" fill="#000" />
<rect x="432" y="480" width="175" height="13.2" fill="#000" />
<rect x="434.70" y="487" width="4.2" height="5.3" fill="#fff" class="aa"/>
<rect x="436.00" y="481.2" width="1.7" height="3.8" fill="#fff" class="aa"/>
<rect x="440.62" y="487" width="4.2" height="5.3" fill="#fff" class="aa"/>
<rect x="441.92" y="481.2" width="1.7" height="3.8" fill="#fff" class="aa"/>
<rect x="446.54" y="487" width="4.2" height="5.3" fill="#fff" class="aa"/>
<rect x="447.84" y="481.2" width="1.7" height="3.8" fill="#fff" class="aa"/>
<rect x="452.46" y="487" width="4.2" height="5.3" fill="#fff" class="aa"/>
<rect x="453.76" y="481.2" width="1.7" height="3.8" fill="#fff" class="aa"/>
<rect x="458.38" y="487" width="4.2" height="5.3" fill="#fff" class="aa"/>
<rect x="459.68" y="481.2" width="1.7" height="3.8" fill="#fff" class="aa"/>
<rect x="464.30" y="487" width="4.2" height="5.3" fill="#fff" class="aa"/>
<rect x="465.60" y="481.2" width="1.7" height="3.8" fill="#fff" class="aa"/>
<rect x="470.22" y="487" width="4.2" height="5.3" fill="#fff" class="aa"/>
<rect x="471.52" y="481.2" width="1.7" height="3.8" fill="#fff" class="aa"/>
<rect x="476.14" y="487" width="4.2" height="5.3" fill="#fff" class="aa"/>
<rect x="477.44" y="481.2" width="1.7" height="3.8" fill="#fff" class="aa"/>
<rect x="482.06" y="487" width="4.2" height="5.3" fill="#fff" class="aa"/>
<rect x="483.36" y="481.2" width="1.7" height="3.8" fill="#fff" class="aa"/>
<rect x="487.98" y="487" width="4.2" height="5.3" fill="#fff" class="aa"/>
<rect x="489.28" y="481.2" width="1.7" height="3.8" fill="#fff" class="aa"/>
<rect x="493.90" y="487" width="4.2" height="5.3" fill="#fff" class="aa"/>
<rect x="495.20" y="481.2" width="1.7" height="3.8" fill="#fff" class="aa"/>
<rect x="499.82" y="487" width="4.2" height="5.3" fill="#fff" class="aa"/>
<rect x="501.12" y="481.2" width="1.7" height="3.8" fill="#fff" class="aa"/>
<rect x="505.74" y="487" width="4.2" height="5.3" fill="#fff" class="aa"/>
<rect x="507.04" y="481.2" width="1.7" height="3.8" fill="#fff" class="aa"/>
<rect x="511.66" y="487" width="4.2" height="5.3" fill="#fff" class="aa"/>
<rect x="512.96" y="481.2" width="1.7" height="3.8" fill="#fff" class="aa"/>
<rect x="517.58" y="487" width="4.2" height="5.3" fill="#fff" class="aa"/>
<rect x="518.88" y="481.2" width="1.7" height="3.8" fill="#fff" class="aa"/>
<rect x="523.50" y="487" width="4.2" height="5.3" fill="#fff" class="aa"/>
<rect x="524.80" y="481.2" width="1.7" height="3.8" fill="#fff" class="aa"/>
<rect x="529.42" y="487" width="4.2" height="5.3" fill="#fff" class="aa"/>
<rect x="530.72" y="481.2" width="1.7" height="3.8" fill="#fff" class="aa"/>
<rect x="535.34" y="487" width="4.2" height="5.3" fill="#fff" class="aa"/>
<rect x="536.64" y="481.2" width="1.7" height="3.8" fill="#fff" class="aa"/>
<rect x="541.26" y="487" width="4.2" height="5.3" fill="#fff" class="aa"/>
<rect x="542.56" y="481.2" width="1.7" height="3.8" fill="#fff" class="aa"/>
<rect x="547.18" y="487" width="4.2" height="5.3" fill="#fff" class="aa"/>
<rect x="548.48" y="481.2" width="1.7" height="3.8" fill="#fff" class="aa"/>
<rect x="553.10" y="487" width="4.2" height="5.3" fill="#fff" class="aa"/>
<rect x="554.40" y="481.2" width="1.7" height="3.8" fill="#fff" class="aa"/>
<rect x="559.02" y="487" width="4.2" height="5.3" fill="#fff" class="aa"/>
<rect x="560.32" y="481.2" width="1.7" height="3.8" fill="#fff" class="aa"/>
<rect x="564.94" y="487" width="4.2" height="5.3" fill="#fff" class="aa"/>
<rect x="566.24" y="481.2" width="1.7" height="3.8" fill="#fff" class="aa"/>
<rect x="570.86" y="487" width="4.2" height="5.3" fill="#fff" class="aa"/>
<rect x="572.16" y="481.2" width="1.7" height="3.8" fill="#fff" class="aa"/>
<rect x="576.78" y="487" width="4.2" height="5.3" fill="#fff" class="aa"/>
<rect x="578.08" y="481.2" width="1.7" height="3.8" fill="#fff" class="aa"/>
<rect x="582.70" y="487" width="4.2" height="5.3" fill="#fff" class="aa"/>
<rect x="584.00" y="481.2" width="1.7" height="3.8" fill="#fff" class="aa"/>
<rect x="588.62" y="487" width="4.2" height="5.3" fill="#fff" class="aa"/>
<rect x="589.92" y="481.2" width="1.7" height="3.8" fill="#fff" class="aa"/>
<rect x="594.54" y="487" width="4.2" height="5.3" fill="#fff" class="aa"/>
<rect x="595.84" y="481.2" width="1.7" height="3.8" fill="#fff" class="aa"/>
<rect x="600.46" y="487" width="4.2" height="5.3" fill="#fff" class="aa"/>
<rect x="601.76" y="481.2" width="1.7" height="3.8" fill="#fff" class="aa"/>
<rect x="407" y="497" width="226" height="19" fill="#000" />
<rect x="408" y="498" width="224" height="17" fill="#fff" />
<rect x="408" y="504" width="6" height="1" fill="#000" />
<rect x="408" y="511" width="6" height="1" fill="#000" />
<rect x="414" y="497" width="4" height="18" fill="#000" />
<rect x="418" y="498" width="8" height="1" fill="#000" />
<rect x="613" y="498" width="8" height="1" fill="#000" />
<rect x="425" y="498" width="1" height="6" fill="#000" />
<rect x="613" y="498" width="1" height="6" fill="#000" />
<rect x="425" y="503" width="3" height="1" fill="#000" />
<rect x="611" y="503" width="3" height="1" fill="#000" />
<rect x="427" y="503" width="1" height="10" fill="#000" />
<rect x="611" y="503" width="1" height="10" fill="#000" />
<rect x="418" y="512" width="10" height="1" fill="#000" />
<rect x="611" y="512" width="10" height="1" fill="#000" />
<rect x="418" y="502" width="3" height="1" fill="#000" />
<rect x="618" y="502" width="3" height="1" fill="#000" />
<rect x="420" y="502" width="1" height="4" fill="#000" />
<rect x="618" y="502" width="1" height="4" fill="#000" />
<rect x="420" y="505" width="6" height="1" fill="#000" />
<rect x="613" y="505" width="6" height="1" fill="#000" />
<rect x="625" y="504" width="7" height="1" fill="#000" />
<rect x="625" y="511" width="7" height="1" fill="#000" />
<rect x="621" y="497" width="4" height="18" fill="#000" />
<rect x="432" y="500" width="175" height="13.2" fill="#000" />
<rect x="434.70" y="507" width="4.2" height="5.3" fill="#fff" class="aa"/>
<rect x="436.00" y="501.2" width="1.7" height="3.8" fill="#fff" class="aa"/>
<rect x="440.62" y="507" width="4.2" height="5.3" fill="#fff" class="aa"/>
<rect x="441.92" y="501.2" width="1.7" height="3.8" fill="#fff" class="aa"/>
<rect x="446.54" y="507" width="4.2" height="5.3" fill="#fff" class="aa"/>
<rect x="447.84" y="501.2" width="1.7" height="3.8" fill="#fff" class="aa"/>
<rect x="452.46" y="507" width="4.2" height="5.3" fill="#fff" class="aa"/>
<rect x="453.76" y="501.2" width="1.7" height="3.8" fill="#fff" class="aa"/>
<rect x="458.38" y="507" width="4.2" height="5.3" fill="#fff" class="aa"/>
<rect x="459.68" y="501.2" width="1.7" height="3.8" fill="#fff" class="aa"/>
<rect x="464.30" y="507" width="4.2" height="5.3" fill="#fff" class="aa"/>
<rect x="465.60" y="501.2" width="1.7" height="3.8" fill="#fff" class="aa"/>
<rect x="470.22" y="507" width="4.2" height="5.3" fill="#fff" class="aa"/>
<rect x="471.52" y="501.2" width="1.7" height="3.8" fill="#fff" class="aa"/>
<rect x="476.14" y="507" width="4.2" height="5.3" fill="#fff" class="aa"/>
<rect x="477.44" y="501.2" width="1.7" height="3.8" fill="#fff" class="aa"/>
<rect x="482.06" y="507" width="4.2" height="5.3" fill="#fff" class="aa"/>
<rect x="483.36" y="501.2" width="1.7" height="3.8" fill="#fff" class="aa"/>
<rect x="487.98" y="507" width="4.2" height="5.3" fill="#fff" class="aa"/>
<rect x="489.28" y="501.2" width="1.7" height="3.8" fill="#fff" class="aa"/>
<rect x="493.90" y="507" width="4.2" height="5.3" fill="#fff" class="aa"/>
<rect x="495.20" y="501.2" width="1.7" height="3.8" fill="#fff" class="aa"/>
<rect x="499.82" y="507" width="4.2" height="5.3" fill="#fff" class="aa"/>
<rect x="501.12" y="501.2" width="1.7" height="3.8" fill="#fff" class="aa"/>
<rect x="505.74" y="507" width="4.2" height="5.3" fill="#fff" class="aa"/>
<rect x="507.04" y="501.2" width="1.7" height="3.8" fill="#fff" class="aa"/>
<rect x="511.66" y="507" width="4.2" height="5.3" fill="#fff" class="aa"/>
<rect x="512.96" y="501.2" width="1.7" height="3.8" fill="#fff" class="aa"/>
<rect x="517.58" y="507" width="4.2" height="5.3" fill="#fff" class="aa"/>
<rect x="518.88" y="501.2" width="1.7" height="3.8" fill="#fff" class="aa"/>
<rect x="523.50" y="507" width="4.2" height="5.3" fill="#fff" class="aa"/>
<rect x="524.80" y="501.2" width="1.7" height="3.8" fill="#fff" class="aa"/>
<rect x="529.42" y="507" width="4.2" height="5.3" fill="#fff" class="aa"/>
<rect x="530.72" y="501.2" width="1.7" height="3.8" fill="#fff" class="aa"/>
<rect x="535.34" y="507" width="4.2" height="5.3" fill="#fff" class="aa"/>
<rect x="536.64" y="501.2" width="1.7" height="3.8" fill="#fff" class="aa"/>
<rect x="541.26" y="507" width="4.2" height="5.3" fill="#fff" class="aa"/>
<rect x="542.56" y="501.2" width="1.7" height="3.8" fill="#fff" class="aa"/>
<rect x="547.18" y="507" width="4.2" height="5.3" fill="#fff" class="aa"/>
<rect x="548.48" y="501.2" width="1.7" height="3.8" fill="#fff" class="aa"/>
<rect x="553.10" y="507" width="4.2" height="5.3" fill="#fff" class="aa"/>
<rect x="554.40" y="501.2" width="1.7" height="3.8" fill="#fff" class="aa"/>
<rect x="559.02" y="507" width="4.2" height="5.3" fill="#fff" class="aa"/>
<rect x="560.32" y="501.2" width="1.7" height="3.8" fill="#fff" class="aa"/>
<rect x="564.94" y="507" width="4.2" height="5.3" fill="#fff" class="aa"/>
<rect x="566.24" y="501.2" width="1.7" height="3.8" fill="#fff" class="aa"/>
<rect x="570.86" y="507" width="4.2" height="5.3" fill="#fff" class="aa"/>
<rect x="572.16" y="501.2" width="1.7" height="3.8" fill="#fff" class="aa"/>
<rect x="576.78" y="507" width="4.2" height="5.3" fill="#fff" class="aa"/>
<rect x="578.08" y="501.2" width="1.7" height="3.8" fill="#fff" class="aa"/>
<rect x="582.70" y="507" width="4.2" height="5.3" fill="#fff" class="aa"/>
<rect x="584.00" y="501.2" width="1.7" height="3.8" fill="#fff" class="aa"/>
<rect x="588.62" y="507" width="4.2" height="5.3" fill="#fff" class="aa"/>
<rect x="589.92" y="501.2" width="1.7" height="3.8" fill="#fff" class="aa"/>
<rect x="594.54" y="507" width="4.2" height="5.3" fill="#fff" class="aa"/>
<rect x="595.84" y="501.2" width="1.7" height="3.8" fill="#fff" class="aa"/>
<rect x="600.46" y="507" width="4.2" height="5.3" fill="#fff" class="aa"/>
<rect x="601.76" y="501.2" width="1.7" height="3.8" fill="#fff" class="aa"/>
<rect x="490" y="385.5" width="60" height="19" rx="3.5" fill="#000" class="aa"/>
<rect x="492" y="387.8" width="56.3" height="14" rx="2" fill="#fff" class="aa"/>
<text transform="translate(520.3,398.8) scale(0.86,1)" font-size="13" text-anchor="middle" fill="#000" textLength="53.4884" lengthAdjust="spacing" >BANK 0</text>
<rect x="490" y="465.8" width="60" height="19" rx="3.5" fill="#000" class="aa"/>
<rect x="492" y="468.1" width="56.3" height="14" rx="2" fill="#fff" class="aa"/>
<text transform="translate(520.3,479.1) scale(0.86,1)" font-size="13" text-anchor="middle" fill="#000" textLength="53.4884" lengthAdjust="spacing" >BANK 1</text>
<polygon points="138,266 194.5,266 197,268 200,270 200,325 197.3,328.5 196,331 140,331 137,329 134,327.5 134,272 137,268" fill="#000" class="aa" />
<rect x="134" y="282" width="3" height="1" fill="#fff" />
<rect x="134" y="285" width="3" height="1" fill="#fff" />
<rect x="134" y="288" width="3" height="1" fill="#fff" />
<rect x="134" y="299" width="3" height="1" fill="#fff" />
<rect x="134" y="302" width="3" height="1" fill="#fff" />
<rect x="134" y="305" width="3" height="1" fill="#fff" />
<rect x="134" y="316" width="3" height="1" fill="#fff" />
<rect x="134" y="319" width="3" height="1" fill="#fff" />
<rect x="134" y="323" width="3" height="1" fill="#fff" />
<rect x="134" y="326" width="3" height="1" fill="#fff" />
<rect x="197" y="269" width="3" height="1" fill="#fff" />
<rect x="197" y="273" width="3" height="1" fill="#fff" />
<rect x="197" y="277" width="3" height="1" fill="#fff" />
<rect x="197" y="288" width="3" height="1" fill="#fff" />
<rect x="197" y="291" width="3" height="1" fill="#fff" />
<rect x="197" y="294" width="3" height="1" fill="#fff" />
<rect x="197" y="305" width="3" height="1" fill="#fff" />
<rect x="197" y="308" width="3" height="1" fill="#fff" />
<rect x="197" y="311" width="3" height="1" fill="#fff" />
<rect x="197" y="314" width="3" height="1" fill="#fff" />
<rect x="143" y="266" width="1" height="2" fill="#fff" />
<rect x="154" y="266" width="1" height="2" fill="#fff" />
<rect x="157" y="266" width="1" height="2" fill="#fff" />
<rect x="160" y="266" width="1" height="2" fill="#fff" />
<rect x="170" y="266" width="1" height="2" fill="#fff" />
<rect x="174" y="266" width="1" height="2" fill="#fff" />
<rect x="177" y="266" width="1" height="2" fill="#fff" />
<rect x="188" y="266" width="1" height="2" fill="#fff" />
<rect x="191" y="266" width="1" height="2" fill="#fff" />
<rect x="194" y="266" width="1" height="2" fill="#fff" />
<rect x="140" y="329" width="1" height="2" fill="#fff" />
<rect x="144" y="329" width="1" height="2" fill="#fff" />
<rect x="148" y="329" width="1" height="2" fill="#fff" />
<rect x="159" y="329" width="1" height="2" fill="#fff" />
<rect x="162" y="329" width="1" height="2" fill="#fff" />
<rect x="166" y="329" width="1" height="2" fill="#fff" />
<rect x="176" y="329" width="1" height="2" fill="#fff" />
<rect x="179" y="329" width="1" height="2" fill="#fff" />
<rect x="183" y="329" width="1" height="2" fill="#fff" />
<rect x="193" y="329" width="1" height="2" fill="#fff" />
<rect x="196" y="329" width="1" height="2" fill="#fff" />
<rect x="231.6" y="258.4" width="42.2" height="16.6" rx="2.8" fill="#000" class="aa"/>
<rect x="233.5" y="260.4" width="37.8" height="12.2" rx="1.6" fill="#fff" class="aa"/>
<text transform="translate(251.5,271.6) scale(0.86,1)" font-size="13" text-anchor="middle" fill="#000"  letter-spacing="1.5">JP8A</text>
<line x1="266" y1="274" x2="276.5" y2="284.5" stroke="#000" stroke-width="1.5" class="aa" stroke-linecap="round"/>
<line x1="271.5" y1="272" x2="280.5" y2="284.5" stroke="#000" stroke-width="1.5" class="aa" stroke-linecap="round"/>
<polygon points="267,272.5 271,272.5 277.5,283" fill="#fff" class="aa" />
<rect x="214.3" y="284.4" width="41.4" height="17.1" rx="2.8" fill="#000" class="aa"/>
<rect x="216.2" y="286.4" width="37" height="12.7" rx="1.6" fill="#fff" class="aa"/>
<text transform="translate(233.8,297.6) scale(0.86,1)" font-size="13" text-anchor="middle" fill="#000"  letter-spacing="1.5">JP8D</text>
<polygon points="254.7,289.3 266.2,292.3 270,292.3 270,294.1 266.2,294.1 254.7,297.1" fill="#000" class="aa" />
<polygon points="252.7,291.2 262.7,292.9 262.7,293.5 252.7,295.2" fill="#fff" class="aa" />
<rect x="270" y="284" width="13" height="18.5" fill="#000" />
<rect x="271" y="285" width="1" height="16.5" fill="#fff" />
<rect x="272.5" y="289.4" width="4.2" height="1.7" fill="#fff" />
<rect x="277.7" y="289.4" width="4.3" height="1.7" fill="#fff" />
<rect x="272.5" y="295" width="4.2" height="1" fill="#fff" />
<rect x="277.7" y="295" width="4.3" height="1" fill="#fff" />
<rect x="272.5" y="297.5" width="4.2" height="3.5" fill="#fff" />
<rect x="277.7" y="297.5" width="4.3" height="3.5" fill="#fff" />
<rect x="273.6" y="298.6" width="2" height="1.5" fill="#000" />
<rect x="278.8" y="298.6" width="2" height="1.5" fill="#000" />
<rect x="214.3" y="309.5" width="41.4" height="17" rx="2.8" fill="#000" class="aa"/>
<rect x="216.2" y="311.5" width="37" height="12.6" rx="1.6" fill="#fff" class="aa"/>
<text transform="translate(233.8,322.7) scale(0.86,1)" font-size="13" text-anchor="middle" fill="#000"  letter-spacing="1.5">JP8B</text>
<polygon points="254.7,314.4 266.2,317.4 270,317.4 270,319.2 266.2,319.2 254.7,322.2" fill="#000" class="aa" />
<polygon points="252.7,316.3 262.7,318 262.7,318.6 252.7,320.3" fill="#fff" class="aa" />
<rect x="270" y="309" width="13" height="18.5" fill="#000" />
<rect x="272.5" y="314.4" width="4.2" height="1.7" fill="#fff" />
<rect x="277.7" y="314.4" width="4.3" height="1.7" fill="#fff" />
<rect x="272.5" y="320" width="4.2" height="1" fill="#fff" />
<rect x="277.7" y="320" width="4.3" height="1" fill="#fff" />
<rect x="272.5" y="322.5" width="4.2" height="3.5" fill="#fff" />
<rect x="277.7" y="322.5" width="4.3" height="3.5" fill="#fff" />
<rect x="273.6" y="323.6" width="2" height="1.5" fill="#000" />
<rect x="278.8" y="323.6" width="2" height="1.5" fill="#000" />
<rect x="231.6" y="336.6" width="42.2" height="17.2" rx="2.8" fill="#000" class="aa"/>
<rect x="233.5" y="338.6" width="37.8" height="12.8" rx="1.6" fill="#fff" class="aa"/>
<text transform="translate(251.5,349.8) scale(0.86,1)" font-size="13" text-anchor="middle" fill="#000"  letter-spacing="1.5">JP8E</text>
<line x1="266" y1="337.5" x2="276.5" y2="327.5" stroke="#000" stroke-width="1.5" class="aa" stroke-linecap="round"/>
<line x1="271.5" y1="339" x2="280.5" y2="327.5" stroke="#000" stroke-width="1.5" class="aa" stroke-linecap="round"/>
<polygon points="267.5,338.8 271,338.8 277.5,329" fill="#fff" class="aa" />
<rect x="108" y="383" width="1" height="7" fill="#000" />
<rect x="108" y="483" width="1" height="6.5" fill="#000" />
<rect x="99" y="391" width="7" height="1" fill="#000" />
<rect x="200" y="391" width="5.5" height="1" fill="#000" />
<rect x="110" y="383" width="1" height="7" fill="#000" />
<rect x="110" y="483" width="1" height="6.5" fill="#000" />
<rect x="99" y="394" width="7" height="1" fill="#000" />
<rect x="200" y="394" width="5.5" height="1" fill="#000" />
<rect x="113" y="383" width="1" height="7" fill="#000" />
<rect x="113" y="483" width="1" height="6.5" fill="#000" />
<rect x="99" y="396" width="7" height="1" fill="#000" />
<rect x="200" y="396" width="5.5" height="1" fill="#000" />
<rect x="115" y="383" width="1" height="7" fill="#000" />
<rect x="115" y="483" width="1" height="6.5" fill="#000" />
<rect x="99" y="398" width="7" height="1" fill="#000" />
<rect x="200" y="398" width="5.5" height="1" fill="#000" />
<rect x="117" y="383" width="1" height="7" fill="#000" />
<rect x="117" y="483" width="1" height="6.5" fill="#000" />
<rect x="99" y="401" width="7" height="1" fill="#000" />
<rect x="200" y="401" width="5.5" height="1" fill="#000" />
<rect x="119" y="383" width="1" height="7" fill="#000" />
<rect x="119" y="483" width="1" height="6.5" fill="#000" />
<rect x="99" y="403" width="7" height="1" fill="#000" />
<rect x="200" y="403" width="5.5" height="1" fill="#000" />
<rect x="122" y="383" width="1" height="7" fill="#000" />
<rect x="122" y="483" width="1" height="6.5" fill="#000" />
<rect x="99" y="405" width="7" height="1" fill="#000" />
<rect x="200" y="405" width="5.5" height="1" fill="#000" />
<rect x="124" y="383" width="1" height="7" fill="#000" />
<rect x="124" y="483" width="1" height="6.5" fill="#000" />
<rect x="99" y="407" width="7" height="1" fill="#000" />
<rect x="200" y="407" width="5.5" height="1" fill="#000" />
<rect x="126" y="383" width="1" height="7" fill="#000" />
<rect x="126" y="483" width="1" height="6.5" fill="#000" />
<rect x="99" y="410" width="7" height="1" fill="#000" />
<rect x="200" y="410" width="5.5" height="1" fill="#000" />
<rect x="129" y="383" width="1" height="7" fill="#000" />
<rect x="129" y="483" width="1" height="6.5" fill="#000" />
<rect x="99" y="412" width="7" height="1" fill="#000" />
<rect x="200" y="412" width="5.5" height="1" fill="#000" />
<rect x="131" y="383" width="1" height="7" fill="#000" />
<rect x="131" y="483" width="1" height="6.5" fill="#000" />
<rect x="99" y="414" width="7" height="1" fill="#000" />
<rect x="200" y="414" width="5.5" height="1" fill="#000" />
<rect x="133" y="383" width="1" height="7" fill="#000" />
<rect x="133" y="483" width="1" height="6.5" fill="#000" />
<rect x="99" y="417" width="7" height="1" fill="#000" />
<rect x="200" y="417" width="5.5" height="1" fill="#000" />
<rect x="136" y="383" width="1" height="7" fill="#000" />
<rect x="136" y="483" width="1" height="6.5" fill="#000" />
<rect x="99" y="419" width="7" height="1" fill="#000" />
<rect x="200" y="419" width="5.5" height="1" fill="#000" />
<rect x="138" y="383" width="1" height="7" fill="#000" />
<rect x="138" y="483" width="1" height="6.5" fill="#000" />
<rect x="99" y="421" width="7" height="1" fill="#000" />
<rect x="200" y="421" width="5.5" height="1" fill="#000" />
<rect x="140" y="383" width="1" height="7" fill="#000" />
<rect x="140" y="483" width="1" height="6.5" fill="#000" />
<rect x="99" y="424" width="7" height="1" fill="#000" />
<rect x="200" y="424" width="5.5" height="1" fill="#000" />
<rect x="142" y="383" width="1" height="7" fill="#000" />
<rect x="142" y="483" width="1" height="6.5" fill="#000" />
<rect x="99" y="426" width="7" height="1" fill="#000" />
<rect x="200" y="426" width="5.5" height="1" fill="#000" />
<rect x="145" y="383" width="1" height="7" fill="#000" />
<rect x="145" y="483" width="1" height="6.5" fill="#000" />
<rect x="99" y="428" width="7" height="1" fill="#000" />
<rect x="200" y="428" width="5.5" height="1" fill="#000" />
<rect x="147" y="383" width="1" height="7" fill="#000" />
<rect x="147" y="483" width="1" height="6.5" fill="#000" />
<rect x="99" y="431" width="7" height="1" fill="#000" />
<rect x="200" y="431" width="5.5" height="1" fill="#000" />
<rect x="149" y="383" width="1" height="7" fill="#000" />
<rect x="149" y="483" width="1" height="6.5" fill="#000" />
<rect x="99" y="433" width="7" height="1" fill="#000" />
<rect x="200" y="433" width="5.5" height="1" fill="#000" />
<rect x="152" y="383" width="1" height="7" fill="#000" />
<rect x="152" y="483" width="1" height="6.5" fill="#000" />
<rect x="99" y="435" width="7" height="1" fill="#000" />
<rect x="200" y="435" width="5.5" height="1" fill="#000" />
<rect x="154" y="383" width="1" height="7" fill="#000" />
<rect x="154" y="483" width="1" height="6.5" fill="#000" />
<rect x="99" y="438" width="7" height="1" fill="#000" />
<rect x="200" y="438" width="5.5" height="1" fill="#000" />
<rect x="156" y="383" width="1" height="7" fill="#000" />
<rect x="156" y="483" width="1" height="6.5" fill="#000" />
<rect x="99" y="440" width="7" height="1" fill="#000" />
<rect x="200" y="440" width="5.5" height="1" fill="#000" />
<rect x="158" y="383" width="1" height="7" fill="#000" />
<rect x="158" y="483" width="1" height="6.5" fill="#000" />
<rect x="99" y="442" width="7" height="1" fill="#000" />
<rect x="200" y="442" width="5.5" height="1" fill="#000" />
<rect x="161" y="383" width="1" height="7" fill="#000" />
<rect x="161" y="483" width="1" height="6.5" fill="#000" />
<rect x="99" y="444" width="7" height="1" fill="#000" />
<rect x="200" y="444" width="5.5" height="1" fill="#000" />
<rect x="163" y="383" width="1" height="7" fill="#000" />
<rect x="163" y="483" width="1" height="6.5" fill="#000" />
<rect x="99" y="447" width="7" height="1" fill="#000" />
<rect x="200" y="447" width="5.5" height="1" fill="#000" />
<rect x="165" y="383" width="1" height="7" fill="#000" />
<rect x="165" y="483" width="1" height="6.5" fill="#000" />
<rect x="99" y="449" width="7" height="1" fill="#000" />
<rect x="200" y="449" width="5.5" height="1" fill="#000" />
<rect x="168" y="383" width="1" height="7" fill="#000" />
<rect x="168" y="483" width="1" height="6.5" fill="#000" />
<rect x="99" y="451" width="7" height="1" fill="#000" />
<rect x="200" y="451" width="5.5" height="1" fill="#000" />
<rect x="170" y="383" width="1" height="7" fill="#000" />
<rect x="170" y="483" width="1" height="6.5" fill="#000" />
<rect x="99" y="454" width="7" height="1" fill="#000" />
<rect x="200" y="454" width="5.5" height="1" fill="#000" />
<rect x="172" y="383" width="1" height="7" fill="#000" />
<rect x="172" y="483" width="1" height="6.5" fill="#000" />
<rect x="99" y="456" width="7" height="1" fill="#000" />
<rect x="200" y="456" width="5.5" height="1" fill="#000" />
<rect x="175" y="383" width="1" height="7" fill="#000" />
<rect x="175" y="483" width="1" height="6.5" fill="#000" />
<rect x="99" y="458" width="7" height="1" fill="#000" />
<rect x="200" y="458" width="5.5" height="1" fill="#000" />
<rect x="177" y="383" width="1" height="7" fill="#000" />
<rect x="177" y="483" width="1" height="6.5" fill="#000" />
<rect x="99" y="461" width="7" height="1" fill="#000" />
<rect x="200" y="461" width="5.5" height="1" fill="#000" />
<rect x="179" y="383" width="1" height="7" fill="#000" />
<rect x="179" y="483" width="1" height="6.5" fill="#000" />
<rect x="99" y="463" width="7" height="1" fill="#000" />
<rect x="200" y="463" width="5.5" height="1" fill="#000" />
<rect x="181" y="383" width="1" height="7" fill="#000" />
<rect x="181" y="483" width="1" height="6.5" fill="#000" />
<rect x="99" y="465" width="7" height="1" fill="#000" />
<rect x="200" y="465" width="5.5" height="1" fill="#000" />
<rect x="184" y="383" width="1" height="7" fill="#000" />
<rect x="184" y="483" width="1" height="6.5" fill="#000" />
<rect x="99" y="468" width="7" height="1" fill="#000" />
<rect x="200" y="468" width="5.5" height="1" fill="#000" />
<rect x="186" y="383" width="1" height="7" fill="#000" />
<rect x="186" y="483" width="1" height="6.5" fill="#000" />
<rect x="99" y="470" width="7" height="1" fill="#000" />
<rect x="200" y="470" width="5.5" height="1" fill="#000" />
<rect x="188" y="383" width="1" height="7" fill="#000" />
<rect x="188" y="483" width="1" height="6.5" fill="#000" />
<rect x="99" y="472" width="7" height="1" fill="#000" />
<rect x="200" y="472" width="5.5" height="1" fill="#000" />
<rect x="191" y="383" width="1" height="7" fill="#000" />
<rect x="191" y="483" width="1" height="6.5" fill="#000" />
<rect x="99" y="474" width="7" height="1" fill="#000" />
<rect x="200" y="474" width="5.5" height="1" fill="#000" />
<rect x="193" y="383" width="1" height="7" fill="#000" />
<rect x="193" y="483" width="1" height="6.5" fill="#000" />
<rect x="99" y="477" width="7" height="1" fill="#000" />
<rect x="200" y="477" width="5.5" height="1" fill="#000" />
<rect x="195" y="383" width="1" height="7" fill="#000" />
<rect x="195" y="483" width="1" height="6.5" fill="#000" />
<rect x="99" y="479" width="7" height="1" fill="#000" />
<rect x="200" y="479" width="5.5" height="1" fill="#000" />
<rect x="198" y="383" width="1" height="7" fill="#000" />
<rect x="198" y="483" width="1" height="6.5" fill="#000" />
<rect x="99" y="481" width="7" height="1" fill="#000" />
<rect x="200" y="481" width="5.5" height="1" fill="#000" />
<rect x="105" y="389" width="95.5" height="95" fill="#000" />
<rect x="106.2" y="390.2" width="93.1" height="92.6" fill="#fff" />
<circle cx="111.3" cy="477.9" r="3.1" fill="#fff" stroke="#000" stroke-width="1.1"/>
<rect x="136" y="427" width="33" height="18.5" rx="2.8" fill="#000" class="aa"/>
<rect x="137.9" y="429" width="28.6" height="14.1" rx="1.6" fill="#fff" class="aa"/>
<text transform="translate(151.7,439.8) scale(0.86,1)" font-size="13" text-anchor="middle" fill="#000"  letter-spacing="1.5">CPU</text>
<rect x="247" y="442.4" width="41.7" height="18.4" rx="2.8" fill="#000" class="aa"/>
<rect x="248.9" y="444.4" width="37.3" height="14" rx="1.6" fill="#fff" class="aa"/>
<text transform="translate(266.65,455.6) scale(0.86,1)" font-size="13" text-anchor="middle" fill="#000"  letter-spacing="1.5">JP7B</text>
<polygon points="287.7,447.6 299.2,450.6 303,450.6 303,452.4 299.2,452.4 287.7,455.4" fill="#000" class="aa" />
<polygon points="285.7,449.5 295.7,451.2 295.7,451.8 285.7,453.5" fill="#fff" class="aa" />
<rect x="303" y="442" width="19" height="18" fill="#000" />
<rect x="304.5" y="443.5" width="1" height="4" fill="#fff" />
<rect x="309" y="443.5" width="1" height="4" fill="#fff" />
<rect x="315" y="443.5" width="1" height="4" fill="#fff" />
<rect x="317.3" y="443.7" width="3" height="3" fill="#fff" />
<rect x="304.5" y="449.5" width="1" height="4" fill="#fff" />
<rect x="309" y="449.5" width="1" height="4" fill="#fff" />
<rect x="315" y="449.5" width="1" height="4" fill="#fff" />
<rect x="317.3" y="449.7" width="3" height="3" fill="#fff" />
<rect x="304.5" y="455.5" width="1" height="3.2" fill="#fff" />
<rect x="309" y="455.5" width="1" height="3.2" fill="#fff" />
<rect x="315" y="455.5" width="1" height="3.2" fill="#fff" />
<rect x="317.3" y="455.7" width="3" height="2.2" fill="#fff" />
<rect x="329.6" y="421.4" width="41.4" height="16.6" rx="2.8" fill="#000" class="aa"/>
<rect x="331.5" y="423.4" width="37" height="12.2" rx="1.6" fill="#fff" class="aa"/>
<text transform="translate(349.1,434.6) scale(0.86,1)" font-size="13" text-anchor="middle" fill="#000"  letter-spacing="1.5">JP7C</text>
<line x1="330.5" y1="434.5" x2="322" y2="445.3" stroke="#000" stroke-width="1.9" class="aa" stroke-linecap="round"/>
<line x1="335" y1="437.8" x2="322.5" y2="447.3" stroke="#000" stroke-width="1.9" class="aa" stroke-linecap="round"/>
<polygon points="332,435.5 335.5,436 325.5,444.5" fill="#fff" class="aa" />
<rect x="294.3" y="476.2" width="42.3" height="18.8" rx="2.8" fill="#000" class="aa"/>
<rect x="296.2" y="478.2" width="37.9" height="14.4" rx="1.6" fill="#fff" class="aa"/>
<text transform="translate(314.25,489.4) scale(0.86,1)" font-size="13" text-anchor="middle" fill="#000"  letter-spacing="1.5">JP7A</text>
<line x1="314.2" y1="460" x2="311.8" y2="477" stroke="#000" stroke-width="1.9" class="aa" stroke-linecap="round"/>
<line x1="315.2" y1="460" x2="317.5" y2="477" stroke="#000" stroke-width="1.9" class="aa" stroke-linecap="round"/>
<polygon points="314.7,466 316.2,478.6 313,478.6" fill="#fff" class="aa" />
<rect x="714" y="279" width="35.4" height="18.2" rx="2.8" fill="#000" class="aa"/>
<rect x="715.9" y="281" width="31" height="13.8" rx="1.6" fill="#fff" class="aa"/>
<text transform="translate(730.5,292.2) scale(0.86,1)" font-size="13" text-anchor="middle" fill="#000"  letter-spacing="1.5">JP5</text>
<polygon points="748.4,283.7 759.9,286.7 764,286.7 764,288.5 759.9,288.5 748.4,291.5" fill="#000" class="aa" />
<polygon points="746.4,285.6 756.4,287.3 756.4,287.9 746.4,289.6" fill="#fff" class="aa" />
<rect x="764" y="281" width="7" height="14" fill="#000" />
<rect x="765" y="282.3" width="5" height="1.4" fill="#fff" />
<rect x="765" y="287.3" width="5" height="1.4" fill="#fff" />
<rect x="765" y="292.3" width="5" height="1.4" fill="#fff" />
<rect x="721.2" y="361" width="35.5" height="18.6" rx="2.8" fill="#000" class="aa"/>
<rect x="723.1" y="363" width="31.1" height="14.2" rx="1.6" fill="#fff" class="aa"/>
<text transform="translate(737.75,374.2) scale(0.86,1)" font-size="13" text-anchor="middle" fill="#000"  letter-spacing="1.5">JP2</text>
<polygon points="755.7,365.6 767.2,368.6 771,368.6 771,370.4 767.2,370.4 755.7,373.4" fill="#000" class="aa" />
<polygon points="753.7,367.5 763.7,369.2 763.7,369.8 753.7,371.5" fill="#fff" class="aa" />
<rect x="771" y="359" width="7" height="26" fill="#000" />
<rect x="772" y="360" width="5" height="24" fill="#fff" />
<rect x="773" y="361" width="4" height="5" fill="#000" />
<rect x="773" y="367" width="4" height="5" fill="#000" />
<rect x="773" y="373" width="4" height="5" fill="#000" />
<rect x="773" y="379" width="4" height="4" fill="#000" />
<rect x="774" y="380.5" width="2" height="2" fill="#fff" />
<rect x="683" y="395.3" width="36" height="18.3" rx="2.8" fill="#000" class="aa"/>
<rect x="684.9" y="397.3" width="31.6" height="13.9" rx="1.6" fill="#fff" class="aa"/>
<text transform="translate(699.8,408.5) scale(0.86,1)" font-size="13" text-anchor="middle" fill="#000"  letter-spacing="1.5">JP6</text>
<polygon points="718,400.5 729.5,403.5 733,403.5 733,405.3 729.5,405.3 718,408.3" fill="#000" class="aa" />
<polygon points="716,402.4 726,404.1 726,404.7 716,406.4" fill="#fff" class="aa" />
<rect x="733" y="401" width="19" height="6.7" fill="#000" />
<rect x="737.3" y="402" width="1.2" height="4.7" fill="#fff" />
<rect x="741.6" y="402" width="1.2" height="4.7" fill="#fff" />
<rect x="745" y="402" width="1.2" height="4.7" fill="#fff" />
<rect x="746.3" y="402" width="4.5" height="4.7" fill="#fff" />
<rect x="747.5" y="403.2" width="2.2" height="2.3" fill="#000" />
<path d="M761,397.3 H785 C785.5,399.5 786.9,400.5 786.8,402 C786.7,404 784.5,405.5 784.3,408 V414.5 C785.5,415 786,415.5 786,416.5 V420 C786,421 785,421.3 784.3,421.5 V428 C784.5,430 786.8,431.5 786.8,433 C786.8,435 785.3,436 785,437.5 H762.5 C761.5,436 759.2,435 759.2,432.8 C759.2,431 761,430 761.2,428 V421.3 C761,420 759.2,419 759.2,417.7 C759.2,416.3 761,415.5 761.2,414.5 V407.2 C761,405 759.2,404 759.2,402 C759.2,400 760.5,399 761,397.3 Z" fill="#fff" stroke="#000" stroke-width="1.15" class="aa"/>
<polygon points="668,422.5 726,422.5 730.3,427.5 730.3,460.5 726,465 668,465 663.8,460.5 663.8,427.5" fill="#000" class="aa" />
<path d="M718.4,454 H722.9 V456.5 L720.7,458.4 L718.4,456.5 Z" fill="#fff" class="aa"/>
<rect x="677" y="422" width="1" height="3" fill="#fff" />
<rect x="681" y="422" width="1" height="3" fill="#fff" />
<rect x="696" y="422" width="1" height="3" fill="#fff" />
<rect x="700" y="422" width="1" height="3" fill="#fff" />
<rect x="714" y="422" width="1" height="3" fill="#fff" />
<rect x="717" y="422" width="1" height="3" fill="#fff" />
<rect x="670" y="462" width="1" height="3" fill="#fff" />
<rect x="674" y="462" width="1" height="3" fill="#fff" />
<rect x="688" y="462" width="1" height="3" fill="#fff" />
<rect x="692" y="462" width="1" height="3" fill="#fff" />
<rect x="706" y="462" width="1" height="3" fill="#fff" />
<rect x="710" y="462" width="1" height="3" fill="#fff" />
<rect x="722" y="462" width="1" height="3" fill="#fff" />
<rect x="663" y="431" width="4" height="1" fill="#fff" />
<rect x="663" y="435" width="4" height="1" fill="#fff" />
<rect x="663" y="446" width="4" height="1" fill="#fff" />
<rect x="663" y="450" width="4" height="1" fill="#fff" />
<rect x="663" y="458" width="4" height="1" fill="#fff" />
<rect x="727" y="428" width="4" height="1" fill="#fff" />
<rect x="727" y="432" width="4" height="1" fill="#fff" />
<rect x="727" y="446" width="4" height="1" fill="#fff" />
<rect x="727" y="450" width="4" height="1" fill="#fff" />
<rect x="727" y="455" width="4" height="1" fill="#fff" />
<rect x="727" y="459" width="4" height="1" fill="#fff" />
<rect x="764" y="461" width="30" height="37" fill="#000" />
<rect x="761.3" y="467.3" width="3" height="24.3" fill="#000" />
<rect x="788" y="456" width="6" height="47" fill="#000" />
<rect x="791" y="454" width="3" height="51" fill="#000" />
<rect x="762.6" y="477.3" width="1.4" height="4.2" fill="#fff" />
<rect x="757" y="469" width="5" height="8.3" fill="#000" />
<rect x="758" y="470" width="3" height="6.3" fill="#fff" />
<rect x="757" y="481.5" width="5" height="8.3" fill="#000" />
<rect x="758" y="482.5" width="3" height="6.3" fill="#fff" />
<rect x="639" y="492" width="113" height="23.5" fill="#000" />
<rect x="640" y="493" width="111" height="21.5" fill="#fff" />
<rect x="641" y="495" width="7" height="3" fill="#000" />
<rect x="642" y="496" width="5" height="1" fill="#fff" />
<rect x="642" y="498" width="5" height="1.5" fill="#000" class="aa"/>
<rect x="641" y="501.7" width="7" height="2.2" fill="#000" class="aa"/>
<rect x="650" y="495" width="7" height="3" fill="#000" />
<rect x="651" y="496" width="5" height="1" fill="#fff" />
<rect x="651" y="498" width="5" height="1.5" fill="#000" class="aa"/>
<rect x="650" y="501.7" width="7" height="2.2" fill="#000" class="aa"/>
<rect x="660" y="495" width="7" height="3" fill="#000" />
<rect x="661" y="496" width="5" height="1" fill="#fff" />
<rect x="661" y="498" width="5" height="1.5" fill="#000" class="aa"/>
<rect x="660" y="501.7" width="7" height="2.2" fill="#000" class="aa"/>
<rect x="669" y="495" width="7" height="3" fill="#000" />
<rect x="670" y="496" width="5" height="1" fill="#fff" />
<rect x="670" y="498" width="5" height="1.5" fill="#000" class="aa"/>
<rect x="669" y="501.7" width="7" height="2.2" fill="#000" class="aa"/>
<rect x="678" y="495" width="7" height="3" fill="#000" />
<rect x="679" y="496" width="5" height="1" fill="#fff" />
<rect x="679" y="498" width="5" height="1.5" fill="#000" class="aa"/>
<rect x="678" y="501.7" width="7" height="2.2" fill="#000" class="aa"/>
<rect x="687" y="495" width="7" height="3" fill="#000" />
<rect x="688" y="496" width="5" height="1" fill="#fff" />
<rect x="688" y="498" width="5" height="1.5" fill="#000" class="aa"/>
<rect x="687" y="501.7" width="7" height="2.2" fill="#000" class="aa"/>
<rect x="697" y="495" width="7" height="3" fill="#000" />
<rect x="698" y="496" width="5" height="1" fill="#fff" />
<rect x="698" y="498" width="5" height="1.5" fill="#000" class="aa"/>
<rect x="697" y="501.7" width="7" height="2.2" fill="#000" class="aa"/>
<rect x="706" y="495" width="7" height="3" fill="#000" />
<rect x="707" y="496" width="5" height="1" fill="#fff" />
<rect x="707" y="498" width="5" height="1.5" fill="#000" class="aa"/>
<rect x="706" y="501.7" width="7" height="2.2" fill="#000" class="aa"/>
<rect x="715" y="495" width="7" height="3" fill="#000" />
<rect x="716" y="496" width="5" height="1" fill="#fff" />
<rect x="716" y="498" width="5" height="1.5" fill="#000" class="aa"/>
<rect x="715" y="501.7" width="7" height="2.2" fill="#000" class="aa"/>
<rect x="724" y="495" width="7" height="3" fill="#000" />
<rect x="725" y="496" width="5" height="1" fill="#fff" />
<rect x="725" y="498" width="5" height="1.5" fill="#000" class="aa"/>
<rect x="724" y="501.7" width="7" height="2.2" fill="#000" class="aa"/>
<rect x="733" y="495" width="7" height="3" fill="#000" />
<rect x="734" y="496" width="5" height="1" fill="#fff" />
<rect x="734" y="498" width="5" height="1.5" fill="#000" class="aa"/>
<rect x="733" y="501.7" width="7" height="2.2" fill="#000" class="aa"/>
<rect x="743" y="495" width="7" height="3" fill="#000" />
<rect x="744" y="496" width="5" height="1" fill="#fff" />
<rect x="744" y="498" width="5" height="1.5" fill="#000" class="aa"/>
<rect x="743" y="501.7" width="7" height="2.2" fill="#000" class="aa"/>
<rect x="645" y="505" width="7" height="8" fill="#000" />
<rect x="646" y="506" width="5" height="6" fill="#fff" />
<rect x="655" y="505" width="7" height="8" fill="#000" />
<rect x="656" y="506" width="5" height="6" fill="#fff" />
<rect x="664" y="505" width="7" height="8" fill="#000" />
<rect x="665" y="506" width="5" height="6" fill="#fff" />
<rect x="673" y="505" width="7" height="8" fill="#000" />
<rect x="674" y="506" width="5" height="6" fill="#fff" />
<rect x="682" y="505" width="7" height="8" fill="#000" />
<rect x="683" y="506" width="5" height="6" fill="#fff" />
<rect x="692" y="505" width="7" height="8" fill="#000" />
<rect x="693" y="506" width="5" height="6" fill="#fff" />
<rect x="701" y="505" width="7" height="8" fill="#000" />
<rect x="702" y="506" width="5" height="6" fill="#fff" />
<rect x="710" y="505" width="7" height="8" fill="#000" />
<rect x="711" y="506" width="5" height="6" fill="#fff" />
<rect x="719" y="505" width="7" height="8" fill="#000" />
<rect x="720" y="506" width="5" height="6" fill="#fff" />
<rect x="729" y="505" width="7" height="8" fill="#000" />
<rect x="730" y="506" width="5" height="6" fill="#fff" />
<rect x="739" y="505" width="7" height="8" fill="#000" />
<rect x="740" y="506" width="5" height="6" fill="#fff" />
<rect x="640" y="506" width="2.5" height="1" fill="#000" />
<rect x="640" y="511" width="2.5" height="1" fill="#000" />
<rect x="642" y="506" width="1" height="6" fill="#000" />
<rect x="748.5" y="506" width="2.5" height="1" fill="#000" />
<rect x="748.5" y="511" width="2.5" height="1" fill="#000" />
<rect x="748" y="506" width="1" height="6" fill="#000" />
</svg></body></html>
